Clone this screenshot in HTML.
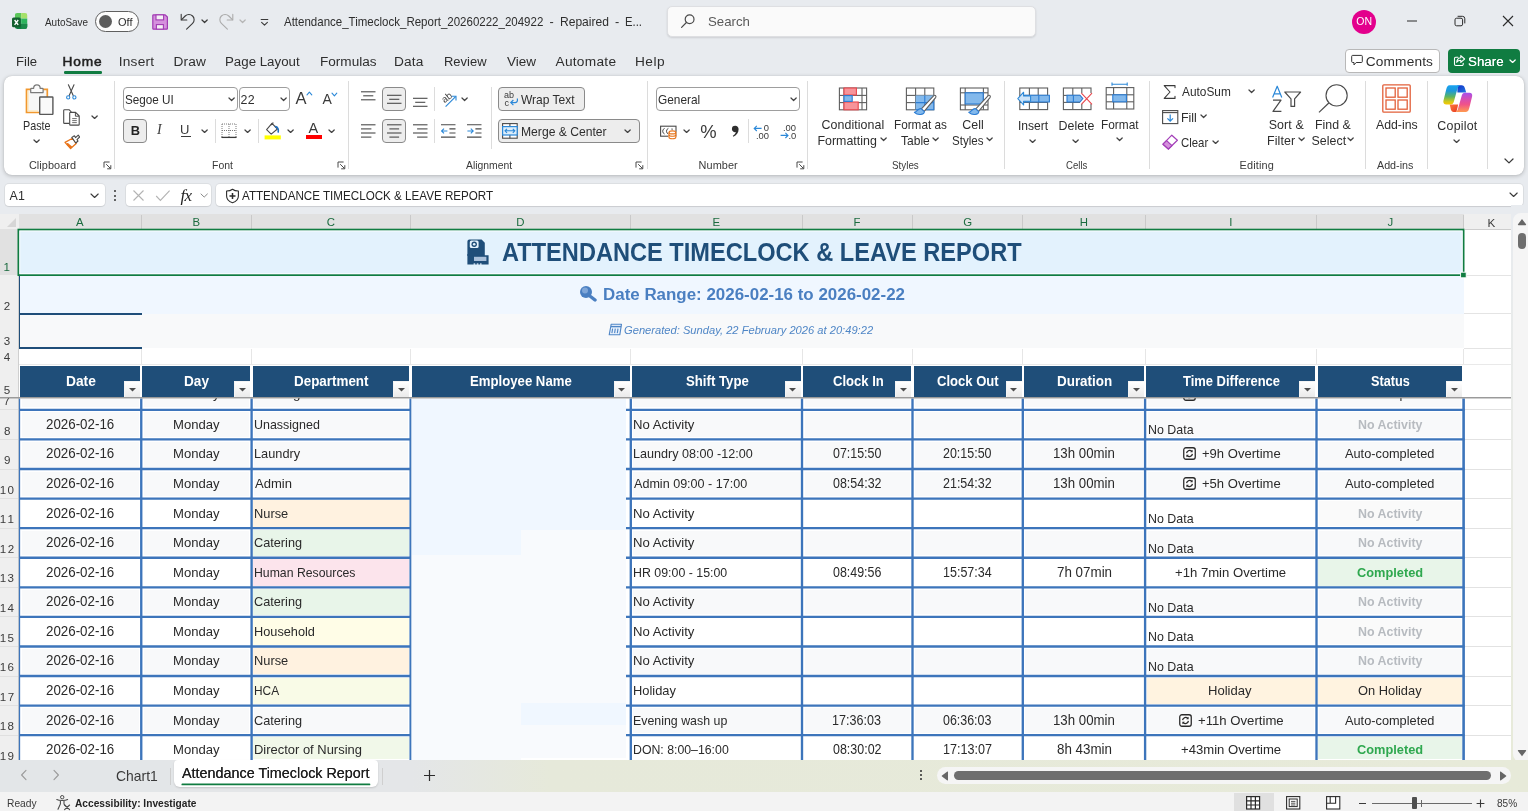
<!DOCTYPE html>
<html lang="en">
<head>
<meta charset="utf-8">
<title>Attendance_Timeclock_Report_20260222_204922 - Repaired - Excel</title>
<style>
*{margin:0;padding:0}
html,body{width:1528px;height:811px;overflow:hidden}
body{position:relative;background:#E8EBEF;font-family:"Liberation Sans",sans-serif;-webkit-font-smoothing:antialiased}
#app{position:absolute;left:0;top:0;width:1528px;height:811px;overflow:hidden}
#app div,#app svg,#app .t{position:absolute}
.t{white-space:nowrap;display:block;transform-origin:0 50%}
#sheet{left:0;top:0;width:1528px;height:760px;overflow:hidden}
</style>
</head>
<body>
<div id="app">
<!-- title bar, tabs, ribbon, formula bar -->
<svg style="left:12px;top:13.3px;" width="16" height="16.5" viewBox="0 0 16 16.5" fill="none"><defs><clipPath id="xlc"><path d="M5.2 0H13A2.4 2.4 0 0 1 15.4 2.4V13.6A2.4 2.4 0 0 1 13 16H5.2A2.4 2.4 0 0 1 2.8 13.6V2.4A2.4 2.4 0 0 1 5.2 0Z"/></clipPath></defs><g clip-path="url(#xlc)"><rect x="2.8" y="0" width="6.4" height="5.6" fill="#5BC65A"/><rect x="9.2" y="0" width="6.4" height="5.6" fill="#A5E069"/><rect x="2.8" y="5.6" width="6.4" height="5.2" fill="#21A366"/><rect x="9.2" y="5.6" width="6.4" height="5.2" fill="#2DB55D"/><rect x="2.8" y="10.8" width="12.8" height="5.4" fill="#107C41"/><rect x="9.2" y="10.8" width="6.4" height="5.4" fill="#1B8A4A"/></g><rect x="0" y="4.5" width="8.8" height="9.8" rx="1.6" fill="#14602F"/><path d="M2.6 7L6.2 11.8M6.2 7L2.6 11.8" stroke="#fff" stroke-width="1.4"/></svg>
<span class="t" style="left:44.98px;top:15px;font-size:11px;line-height:14px;color:#2E2E2E;transform:scaleX(0.9027);">AutoSave</span>
<div style="left:95px;top:11px;width:44px;height:20.5px;background:#FDFDFD;border:1px solid #5F5F5F;border-radius:11px;box-sizing:border-box;"></div>
<div style="left:98.6px;top:14.6px;width:13.4px;height:13.4px;background:#5D5D5D;border-radius:50%;"></div>
<span class="t" style="left:117.98px;top:15px;font-size:11px;line-height:14px;color:#2E2E2E;letter-spacing:0.07px;">Off</span>
<svg style="left:152px;top:13.5px;" width="16.4" height="16.4" viewBox="0 0 16.4 16.4" fill="none"><path d="M1.6 .8H13.2L15.4 3V14.4A.8 .8 0 0 1 14.6 15.2H1.6A.8 .8 0 0 1 .8 14.4V1.6A.8 .8 0 0 1 1.6 .8Z" fill="#D591DD" stroke="#A13BB3" stroke-width="1.2" stroke-linejoin="round"/><rect x="4" y=".9" width="7.6" height="5" fill="#F4F0F5" stroke="#A13BB3" stroke-width="1.1"/><rect x="4.4" y="10.6" width="7" height="4.5" fill="#F4F0F5" stroke="#A13BB3" stroke-width="1.1"/></svg>
<svg style="left:180px;top:12.9px;" width="16" height="17.5" viewBox="0 0 16 17.5" fill="none"><path d="M1.2 1.4V7H6.8" stroke="#3A3A3A" stroke-width="1.1" stroke-linecap="round" stroke-linejoin="round"/><path d="M1.6 6.6L5.2 3A5.2 5.2 0 0 1 12.6 10.4L6.6 16.2" stroke="#3A3A3A" stroke-width="1.1" stroke-linecap="round" stroke-linejoin="round"/></svg>
<svg style="left:201.4px;top:19px;" width="7.2" height="4.6" viewBox="0 0 7.2 4.6" fill="none"><path d="M1 1 L3.6 3.5 L6.2 1" stroke="#3A3A3A" stroke-width="1.25" stroke-linecap="round" stroke-linejoin="round"/></svg>
<svg style="left:218.4px;top:12.9px;" width="16" height="17.5" viewBox="0 0 16 17.5" fill="none"><path d="M14.8 1.4V7H9.2" stroke="#ABABAB" stroke-width="1.1" stroke-linecap="round" stroke-linejoin="round"/><path d="M14.4 6.6L10.8 3A5.2 5.2 0 0 0 3.4 10.4L9.4 16.2" stroke="#ABABAB" stroke-width="1.1" stroke-linecap="round" stroke-linejoin="round"/></svg>
<svg style="left:239.4px;top:19px;" width="7.2" height="4.6" viewBox="0 0 7.2 4.6" fill="none"><path d="M1 1 L3.6 3.5 L6.2 1" stroke="#B5B5B5" stroke-width="1.25" stroke-linecap="round" stroke-linejoin="round"/></svg>
<svg style="left:260px;top:18px;" width="9" height="9" viewBox="0 0 9 9" fill="none"><path d="M1.2 1.5H7.8" stroke="#3A3A3A" stroke-width="1.1" stroke-linecap="round"/><path d="M1.6 4.4L4.5 7.2L7.4 4.4" stroke="#3A3A3A" stroke-width="1.1" stroke-linecap="round" stroke-linejoin="round"/></svg>
<span class="t" style="left:283.98px;top:14px;font-size:12.7px;line-height:17px;color:#2E2E2E;transform:scaleX(0.9070);">Attendance_Timeclock_Report_20260222_204922</span>
<span class="t" style="left:549.44px;top:14px;font-size:12.7px;line-height:17px;color:#2E2E2E;">-</span>
<span class="t" style="left:559.81px;top:14px;font-size:12.7px;line-height:17px;color:#2E2E2E;transform:scaleX(0.9501);">Repaired</span>
<span class="t" style="left:615.04px;top:14px;font-size:12.7px;line-height:17px;color:#2E2E2E;">-</span>
<span class="t" style="left:625.47px;top:14px;font-size:12.7px;line-height:17px;color:#2E2E2E;transform:scaleX(0.8899);">E...</span>
<div style="left:667px;top:6px;width:368.5px;height:31px;background:#FAFAFA;border:1px solid #DEDFE2;border-radius:5px;box-sizing:border-box;box-shadow:0 1px 2px rgba(0,0,0,.12);"></div>
<svg style="left:680px;top:13px;" width="16" height="16" viewBox="0 0 16 16" fill="none"><circle cx="9.6" cy="6.2" r="4.4" stroke="#4A4A4A" stroke-width="1.2"/><path d="M6.4 9.5L1.6 14.4" stroke="#4A4A4A" stroke-width="1.2" stroke-linecap="round"/></svg>
<span class="t" style="left:707.9px;top:13px;font-size:13.6px;line-height:18px;color:#5A5A5A;transform:scaleX(0.9738);">Search</span>
<div style="left:1352px;top:9.6px;width:24px;height:24px;background:#E3008C;border-radius:50%;"></div>
<span class="t" style="left:1356.35px;top:14px;font-size:10.5px;line-height:14px;color:#FFFFFF;letter-spacing:0.1px;">ON</span>
<svg style="left:1406px;top:16px;" width="12" height="10" viewBox="0 0 12 10" fill="none"><path d="M1 5H11" stroke="#2B2B2B" stroke-width="1"/></svg>
<svg style="left:1454.4px;top:15.4px;" width="12" height="12" viewBox="0 0 12 12" fill="none"><rect x="1" y="3.2" width="7.6" height="7.6" rx="1.6" stroke="#2B2B2B" stroke-width="1"/><path d="M3.6 1.3H8.4A2.4 2.4 0 0 1 10.8 3.7V8.4" stroke="#2B2B2B" stroke-width="1"/></svg>
<svg style="left:1502.2px;top:15.4px;" width="12" height="12" viewBox="0 0 12 12" fill="none"><path d="M1 1L11 11M11 1L1 11" stroke="#2B2B2B" stroke-width="1.1"/></svg>
<span class="t" style="left:15.92px;top:53px;font-size:13.7px;line-height:18px;color:#2E2E2E;transform:scaleX(0.9585);">File</span>
<span class="t" style="left:62.38px;top:53px;font-size:13.7px;line-height:18px;color:#1F1F1F;letter-spacing:0.9px;-webkit-text-stroke:.55px #1F1F1F;">Home</span>
<span class="t" style="left:118.74px;top:53px;font-size:13.7px;line-height:18px;color:#2E2E2E;letter-spacing:0.22px;">Insert</span>
<span class="t" style="left:173.38px;top:53px;font-size:13.7px;line-height:18px;color:#2E2E2E;letter-spacing:0.21px;">Draw</span>
<span class="t" style="left:224.91px;top:53px;font-size:13.7px;line-height:18px;color:#2E2E2E;transform:scaleX(0.9708);">Page Layout</span>
<span class="t" style="left:319.89px;top:53px;font-size:13.7px;line-height:18px;color:#2E2E2E;transform:scaleX(0.9914);">Formulas</span>
<span class="t" style="left:393.88px;top:53px;font-size:13.7px;line-height:18px;color:#2E2E2E;letter-spacing:0.23px;">Data</span>
<span class="t" style="left:443.94px;top:53px;font-size:13.7px;line-height:18px;color:#2E2E2E;transform:scaleX(0.9468);">Review</span>
<span class="t" style="left:506.94px;top:53px;font-size:13.7px;line-height:18px;color:#2E2E2E;transform:scaleX(0.9857);">View</span>
<span class="t" style="left:555.47px;top:53px;font-size:13.7px;line-height:18px;color:#2E2E2E;letter-spacing:0.28px;">Automate</span>
<span class="t" style="left:634.88px;top:53px;font-size:13.7px;line-height:18px;color:#2E2E2E;letter-spacing:0.51px;">Help</span>
<div style="left:63.5px;top:71.3px;width:38.8px;height:2.5px;background:#107C41;border-radius:1.2px;"></div>
<div style="left:1345.4px;top:48.6px;width:94.4px;height:24px;background:#FFFFFF;border:1px solid #B8B8B8;border-radius:4px;box-sizing:border-box;"></div>
<svg style="left:1351px;top:54px;" width="12" height="12" viewBox="0 0 12 12" fill="none"><path d="M1.6 1.4H10.4A.9 .9 0 0 1 11.3 2.3V7.6A.9 .9 0 0 1 10.4 8.5H5.2L3 10.9V8.5H1.6A.9 .9 0 0 1 .7 7.6V2.3A.9 .9 0 0 1 1.6 1.4Z" stroke="#333" stroke-width="1" stroke-linejoin="round"/></svg>
<span class="t" style="left:1365.8px;top:53px;font-size:13.7px;line-height:18px;color:#2E2E2E;letter-spacing:0.14px;">Comments</span>
<div style="left:1448px;top:48.6px;width:72px;height:24.2px;background:#107C41;border-radius:4px;"></div>
<svg style="left:1452.5px;top:53.5px;" width="13" height="13" viewBox="0 0 13 13" fill="none"><path d="M5 3.2H2.7A1.2 1.2 0 0 0 1.5 4.4V10.3A1.2 1.2 0 0 0 2.7 11.5H9A1.2 1.2 0 0 0 10.2 10.3V9.2" stroke="#fff" stroke-width="1.1" stroke-linecap="round"/><path d="M7.8 1.6L11.6 5L7.8 8.4V6.3C5.8 6.3 4.6 6.9 3.7 8.3C3.9 5.6 5.3 3.9 7.8 3.7Z" stroke="#fff" stroke-width="1.1" stroke-linejoin="round"/></svg>
<span class="t" style="left:1467.89px;top:53px;font-size:13.7px;line-height:18px;color:#FFFFFF;transform:scaleX(0.9766);text-shadow:0 0 .4px #fff;">Share</span>
<svg style="left:1508.9px;top:58.7px;" width="7.2" height="4.6" viewBox="0 0 7.2 4.6" fill="none"><path d="M1 1 L3.6 3.5 L6.2 1" stroke="#FFFFFF" stroke-width="1.25" stroke-linecap="round" stroke-linejoin="round"/></svg>
<div style="left:4px;top:75.5px;width:1520px;height:99px;background:#FFFFFF;border-radius:8px;box-shadow:0 1px 4px rgba(0,0,0,.22),0 0 1px rgba(0,0,0,.18);"></div>
<div style="left:114px;top:81px;width:1px;height:88px;background:#DCDCDC;"></div>
<div style="left:348px;top:81px;width:1px;height:88px;background:#DCDCDC;"></div>
<div style="left:647px;top:81px;width:1px;height:88px;background:#DCDCDC;"></div>
<div style="left:807px;top:81px;width:1px;height:88px;background:#DCDCDC;"></div>
<div style="left:1004px;top:81px;width:1px;height:88px;background:#DCDCDC;"></div>
<div style="left:1149px;top:81px;width:1px;height:88px;background:#DCDCDC;"></div>
<div style="left:1365px;top:81px;width:1px;height:88px;background:#DCDCDC;"></div>
<div style="left:1427px;top:81px;width:1px;height:88px;background:#DCDCDC;"></div>
<div style="left:1487px;top:81px;width:1px;height:88px;background:#DCDCDC;"></div>
<div style="left:215px;top:119px;width:1px;height:24px;background:#DCDCDC;"></div>
<div style="left:258px;top:119px;width:1px;height:24px;background:#DCDCDC;"></div>
<div style="left:434px;top:87px;width:1px;height:24px;background:#DCDCDC;"></div>
<div style="left:434px;top:119px;width:1px;height:24px;background:#DCDCDC;"></div>
<div style="left:491px;top:86.5px;width:1px;height:62px;background:#DCDCDC;"></div>
<div style="left:748px;top:119px;width:1px;height:24px;background:#DCDCDC;"></div>
<span class="t" style="left:28.95px;top:158px;font-size:10.9px;line-height:14px;color:#3A3A3A;letter-spacing:0.07px;">Clipboard</span>
<span class="t" style="left:211.64px;top:158px;font-size:10.9px;line-height:14px;color:#3A3A3A;transform:scaleX(0.9598);">Font</span>
<span class="t" style="left:466.48px;top:158px;font-size:10.9px;line-height:14px;color:#3A3A3A;transform:scaleX(0.9510);">Alignment</span>
<span class="t" style="left:698.61px;top:158px;font-size:10.9px;line-height:14px;color:#3A3A3A;letter-spacing:0.06px;">Number</span>
<span class="t" style="left:891.55px;top:158px;font-size:10.9px;line-height:14px;color:#3A3A3A;transform:scaleX(0.9030);">Styles</span>
<span class="t" style="left:1065.51px;top:158px;font-size:10.9px;line-height:14px;color:#3A3A3A;transform:scaleX(0.8806);">Cells</span>
<span class="t" style="left:1239.61px;top:158px;font-size:10.9px;line-height:14px;color:#3A3A3A;letter-spacing:0.13px;">Editing</span>
<span class="t" style="left:1376.98px;top:158px;font-size:10.9px;line-height:14px;color:#3A3A3A;transform:scaleX(0.9851);">Add-ins</span>
<svg style="left:103.2px;top:161.4px;" width="9" height="9" viewBox="0 0 9 9" fill="none"><path d="M1 6.6V1H6.6" stroke="#4A4A4A" stroke-width="1"/><path d="M3.2 3.2L7.6 7.6" stroke="#4A4A4A" stroke-width="1"/><path d="M7.8 4.2V7.8H4.2" stroke="#4A4A4A" stroke-width="1"/></svg>
<svg style="left:336.6px;top:161.4px;" width="9" height="9" viewBox="0 0 9 9" fill="none"><path d="M1 6.6V1H6.6" stroke="#4A4A4A" stroke-width="1"/><path d="M3.2 3.2L7.6 7.6" stroke="#4A4A4A" stroke-width="1"/><path d="M7.8 4.2V7.8H4.2" stroke="#4A4A4A" stroke-width="1"/></svg>
<svg style="left:635.4px;top:161.4px;" width="9" height="9" viewBox="0 0 9 9" fill="none"><path d="M1 6.6V1H6.6" stroke="#4A4A4A" stroke-width="1"/><path d="M3.2 3.2L7.6 7.6" stroke="#4A4A4A" stroke-width="1"/><path d="M7.8 4.2V7.8H4.2" stroke="#4A4A4A" stroke-width="1"/></svg>
<svg style="left:796.2px;top:161.4px;" width="9" height="9" viewBox="0 0 9 9" fill="none"><path d="M1 6.6V1H6.6" stroke="#4A4A4A" stroke-width="1"/><path d="M3.2 3.2L7.6 7.6" stroke="#4A4A4A" stroke-width="1"/><path d="M7.8 4.2V7.8H4.2" stroke="#4A4A4A" stroke-width="1"/></svg>
<svg style="left:1504px;top:158.2px;" width="10" height="6" viewBox="0 0 10 6" fill="none"><path d="M1 1 L5 4.9 L9 1" stroke="#3A3A3A" stroke-width="1.25" stroke-linecap="round" stroke-linejoin="round"/></svg>
<svg style="left:25px;top:83.9px;" width="29" height="31.5" viewBox="0 0 29 31.5" fill="none"><path d="M1.5 5.3H22.3V28.5H1.5Z" fill="#F7F7F7" stroke="#F1982F" stroke-width="1.7"/><path d="M3 6.8V27H13" fill="none" stroke="#FFE2A8" stroke-width="1"/><path d="M5.7 8.6V5.2A.8 .8 0 0 1 6.5 4.4H8.6C8.6 2.4 10 .9 11.9 .9S15.2 2.4 15.2 4.4H17.3A.8 .8 0 0 1 18.1 5.2V8.6Z" fill="#FAFAFA" stroke="#7A7A7A" stroke-width="1.2" stroke-linejoin="round"/><rect x="14.7" y="13" width="13.2" height="17.4" rx=".6" fill="#FAFAFA" stroke="#585858" stroke-width="1.4"/></svg>
<span class="t" style="left:23.12px;top:118px;font-size:12.4px;line-height:16px;color:#2E2E2E;transform:scaleX(0.8692);">Paste</span>
<svg style="left:32.6px;top:138.9px;" width="7.2" height="4.6" viewBox="0 0 7.2 4.6" fill="none"><path d="M1 1 L3.6 3.5 L6.2 1" stroke="#424242" stroke-width="1.25" stroke-linecap="round" stroke-linejoin="round"/></svg>
<svg style="left:65px;top:83.5px;" width="12.6" height="16" viewBox="0 0 12.6 16" fill="none"><path d="M3.4 .8L8.2 11.6M9 .8L4.2 11.6" stroke="#4A4A4A" stroke-width="1.1" stroke-linecap="round"/><circle cx="3.2" cy="13.4" r="1.6" stroke="#2B88D8" stroke-width="1.1" fill="#fff"/><circle cx="9.4" cy="13.4" r="1.6" stroke="#2B88D8" stroke-width="1.1" fill="#fff"/></svg>
<svg style="left:62.5px;top:108.5px;" width="17" height="17" viewBox="0 0 17 17" fill="none"><path d="M6.6 14.4H1.4A.7 .7 0 0 1 .7 13.7V1.4A.7 .7 0 0 1 1.4 .7H6L8 2.7V3.2" stroke="#4A4A4A" stroke-width="1.1" fill="#fff" stroke-linejoin="round"/><path d="M7.4 3.4H12.6L16.2 7V15.4A.7 .7 0 0 1 15.5 16.1H7.4A.7 .7 0 0 1 6.7 15.4V4.1A.7 .7 0 0 1 7.4 3.4Z" stroke="#4A4A4A" stroke-width="1.1" fill="#fff" stroke-linejoin="round"/><path d="M12.4 3.6V7.2H16" stroke="#4A4A4A" stroke-width="1" fill="none"/><path d="M9.2 9.6H13.8M9.2 11.6H13.8M9.2 13.6H13.8" stroke="#4A4A4A" stroke-width=".8"/></svg>
<svg style="left:90.9px;top:114.7px;" width="7.2" height="4.6" viewBox="0 0 7.2 4.6" fill="none"><path d="M1 1 L3.6 3.5 L6.2 1" stroke="#424242" stroke-width="1.25" stroke-linecap="round" stroke-linejoin="round"/></svg>
<svg style="left:63.5px;top:133.5px;" width="16.5" height="16" viewBox="0 0 16.5 16" fill="none"><path d="M1 8.4L8.6 4.2L12.2 9.6L6.6 14.6Z" fill="#fff" stroke="#E8741A" stroke-width="1.3" stroke-linejoin="round"/><path d="M3.2 9.8L7.6 13.6" stroke="#E8741A" stroke-width="2.2"/><path d="M3 9L6.8 14" stroke="#E8741A" stroke-width="1"/><path d="M7.8 3.4L10.4 1.8L11.6 3.6L14.2 1.2L15.6 3L13 5.6L14 7L11.8 9Z" fill="#fff" stroke="#4A4A4A" stroke-width="1.1" stroke-linejoin="round"/></svg>
<div style="left:123px;top:87px;width:114.5px;height:23.5px;background:#FFFFFF;border:1px solid #9E9E9E;border-radius:4px;box-sizing:border-box;"></div>
<span class="t" style="left:125.27px;top:92px;font-size:12.4px;line-height:16px;color:#2E2E2E;transform:scaleX(0.9441);">Segoe UI</span>
<svg style="left:227.7px;top:97.2px;" width="7.2" height="4.6" viewBox="0 0 7.2 4.6" fill="none"><path d="M1 1 L3.6 3.5 L6.2 1" stroke="#424242" stroke-width="1.25" stroke-linecap="round" stroke-linejoin="round"/></svg>
<div style="left:239.2px;top:87px;width:51px;height:23.5px;background:#FFFFFF;border:1px solid #9E9E9E;border-radius:4px;box-sizing:border-box;"></div>
<span class="t" style="left:240.58px;top:92px;font-size:12.4px;line-height:16px;color:#2E2E2E;letter-spacing:0.25px;">22</span>
<svg style="left:280.4px;top:97.2px;" width="7.2" height="4.6" viewBox="0 0 7.2 4.6" fill="none"><path d="M1 1 L3.6 3.5 L6.2 1" stroke="#424242" stroke-width="1.25" stroke-linecap="round" stroke-linejoin="round"/></svg>
<span class="t" style="left:295.47px;top:88px;font-size:16.5px;line-height:21px;color:#3A3A3A;">A</span>
<svg style="left:305.5px;top:91px;" width="7" height="5" viewBox="0 0 7 5" fill="none"><path d="M1 3.8L3.4 1.2L5.8 3.8" stroke="#2B88D8" stroke-width="1.1" stroke-linecap="round" stroke-linejoin="round"/></svg>
<span class="t" style="left:322.47px;top:90px;font-size:14px;line-height:18px;color:#3A3A3A;">A</span>
<svg style="left:331px;top:91.5px;" width="7" height="5" viewBox="0 0 7 5" fill="none"><path d="M1 1.2L3.4 3.8L5.8 1.2" stroke="#2B88D8" stroke-width="1.1" stroke-linecap="round" stroke-linejoin="round"/></svg>
<div style="left:123px;top:119px;width:24.2px;height:24.2px;background:#EDEDED;border:1px solid #8A8A8A;border-radius:4px;box-sizing:border-box;"></div>
<span class="t" style="left:130.64px;top:122px;font-size:12.8px;line-height:17px;color:#242424;font-weight:700;">B</span>
<span class="t" style="left:157.05px;top:121px;font-size:14px;line-height:18px;color:#3A3A3A;font-style:italic;font-family:'Liberation Serif',serif;">I</span>
<span class="t" style="left:180px;top:121px;font-size:13px;line-height:17px;color:#3A3A3A;">U</span>
<div style="left:180.6px;top:136.4px;width:10px;height:1px;background:#3A3A3A;"></div>
<svg style="left:200.9px;top:128.9px;" width="7.2" height="4.6" viewBox="0 0 7.2 4.6" fill="none"><path d="M1 1 L3.6 3.5 L6.2 1" stroke="#424242" stroke-width="1.25" stroke-linecap="round" stroke-linejoin="round"/></svg>
<svg style="left:221px;top:122.5px;" width="16" height="16" viewBox="0 0 16 16" fill="none"><path d="M1 1V14" stroke="#7A7A7A" stroke-width="1" stroke-dasharray="1 1"/><path d="M8 1V14" stroke="#7A7A7A" stroke-width="1" stroke-dasharray="1 1"/><path d="M15 1V14" stroke="#7A7A7A" stroke-width="1" stroke-dasharray="1 1"/><path d="M1 1H15" stroke="#7A7A7A" stroke-width="1" stroke-dasharray="1 1"/><path d="M1 7.5H15" stroke="#7A7A7A" stroke-width="1" stroke-dasharray="1 1"/><path d="M.4 14.4H15.6" stroke="#3A3A3A" stroke-width="1.3"/></svg>
<svg style="left:244.4px;top:128.9px;" width="7.2" height="4.6" viewBox="0 0 7.2 4.6" fill="none"><path d="M1 1 L3.6 3.5 L6.2 1" stroke="#424242" stroke-width="1.25" stroke-linecap="round" stroke-linejoin="round"/></svg>
<svg style="left:263.8px;top:121.5px;" width="17.5" height="18" viewBox="0 0 17.5 18" fill="none"><path d="M8 1.4L13.4 7L7.2 12.2L2.6 7.6Z" fill="#fff" stroke="#4A4A4A" stroke-width="1.1" stroke-linejoin="round"/><path d="M7.4 3.2A1.8 1.8 0 0 1 9.6 1" stroke="#4A4A4A" stroke-width="1" fill="none"/><path d="M11.6 4.6C14 5 14.6 7.6 14.2 10" stroke="#1E6FC0" stroke-width="1.6" fill="none" stroke-linecap="round"/><rect x=".6" y="13.4" width="16.2" height="4" fill="#FFFF00"/></svg>
<svg style="left:287.4px;top:128.9px;" width="7.2" height="4.6" viewBox="0 0 7.2 4.6" fill="none"><path d="M1 1 L3.6 3.5 L6.2 1" stroke="#424242" stroke-width="1.25" stroke-linecap="round" stroke-linejoin="round"/></svg>
<span class="t" style="left:308.57px;top:119px;font-size:14.5px;line-height:19px;color:#3A3A3A;">A</span>
<div style="left:305.6px;top:135px;width:16.4px;height:4px;background:#FF0000;"></div>
<svg style="left:328.4px;top:128.9px;" width="7.2" height="4.6" viewBox="0 0 7.2 4.6" fill="none"><path d="M1 1 L3.6 3.5 L6.2 1" stroke="#424242" stroke-width="1.25" stroke-linecap="round" stroke-linejoin="round"/></svg>
<div style="left:382px;top:87px;width:24.4px;height:23.8px;background:#EDEDED;border:1px solid #8A8A8A;border-radius:4px;box-sizing:border-box;"></div>
<div style="left:382px;top:119px;width:24.4px;height:24.2px;background:#EDEDED;border:1px solid #8A8A8A;border-radius:4px;box-sizing:border-box;"></div>
<svg style="left:361px;top:91px;" width="15" height="18" viewBox="0 0 15 18" fill="none"><path d="M0 0.8H14.5" stroke="#4A4A4A" stroke-width="1.1"/><path d="M2.2 4.8H12.3" stroke="#4A4A4A" stroke-width="1.1"/><path d="M0 8.8H14.5" stroke="#4A4A4A" stroke-width="1.1"/></svg>
<svg style="left:386.6px;top:91px;" width="15" height="18" viewBox="0 0 15 18" fill="none"><path d="M0 4.3H14.5" stroke="#4A4A4A" stroke-width="1.1"/><path d="M2.2 8.3H12.3" stroke="#4A4A4A" stroke-width="1.1"/><path d="M0 12.3H14.5" stroke="#4A4A4A" stroke-width="1.1"/></svg>
<svg style="left:413px;top:91px;" width="15" height="18" viewBox="0 0 15 18" fill="none"><path d="M0 7.3H14.5" stroke="#4A4A4A" stroke-width="1.1"/><path d="M2.2 11.3H12.3" stroke="#4A4A4A" stroke-width="1.1"/><path d="M0 15.3H14.5" stroke="#4A4A4A" stroke-width="1.1"/></svg>
<svg style="left:361px;top:123.5px;" width="15" height="15" viewBox="0 0 15 15" fill="none"><path d="M0 0.8H14.5" stroke="#4A4A4A" stroke-width="1.1"/><path d="M0 4.9H10.4" stroke="#4A4A4A" stroke-width="1.1"/><path d="M0 9H14.5" stroke="#4A4A4A" stroke-width="1.1"/><path d="M0 13.1H10.4" stroke="#4A4A4A" stroke-width="1.1"/></svg>
<svg style="left:386.6px;top:123.5px;" width="15" height="15" viewBox="0 0 15 15" fill="none"><path d="M0 0.8H14.5" stroke="#4A4A4A" stroke-width="1.1"/><path d="M2.4 4.9H12.1" stroke="#4A4A4A" stroke-width="1.1"/><path d="M0 9H14.5" stroke="#4A4A4A" stroke-width="1.1"/><path d="M2.4 13.1H12.1" stroke="#4A4A4A" stroke-width="1.1"/></svg>
<svg style="left:413px;top:123.5px;" width="15" height="15" viewBox="0 0 15 15" fill="none"><path d="M0 0.8H14.5" stroke="#4A4A4A" stroke-width="1.1"/><path d="M4.1 4.9H14.5" stroke="#4A4A4A" stroke-width="1.1"/><path d="M0 9H14.5" stroke="#4A4A4A" stroke-width="1.1"/><path d="M4.1 13.1H14.5" stroke="#4A4A4A" stroke-width="1.1"/></svg>
<svg style="left:439.5px;top:90.5px;" width="17" height="17" viewBox="0 0 17 17" fill="none"><text x="0" y="0" transform="translate(4.6 12.2) rotate(-38)" font-family="Liberation Sans,sans-serif" font-size="9.6" fill="#3A3A3A">ab</text><path d="M5.6 15.6L15.6 5.6" stroke="#2B88D8" stroke-width="1.1"/><path d="M11.8 5.2H16V9.4" stroke="#2B88D8" stroke-width="1.1" fill="none"/></svg>
<svg style="left:461.4px;top:97.2px;" width="7.2" height="4.6" viewBox="0 0 7.2 4.6" fill="none"><path d="M1 1 L3.6 3.5 L6.2 1" stroke="#424242" stroke-width="1.25" stroke-linecap="round" stroke-linejoin="round"/></svg>
<svg style="left:440.5px;top:123.5px;" width="15" height="15" viewBox="0 0 15 15" fill="none"><path d="M0 .8H14.5M0 13.1H14.5M8.4 4.9H14.5M8.4 9H14.5" stroke="#4A4A4A" stroke-width="1.1"/><path d="M.8 6.95H6.4M3 4.6L.6 6.95L3 9.3" stroke="#2B88D8" stroke-width="1.1" fill="none"/></svg>
<svg style="left:466.5px;top:123.5px;" width="15" height="15" viewBox="0 0 15 15" fill="none"><path d="M0 .8H14.5M0 13.1H14.5M8.4 4.9H14.5M8.4 9H14.5" stroke="#4A4A4A" stroke-width="1.1"/><path d="M.4 6.95H6M3.8 4.6L6.2 6.95L3.8 9.3" stroke="#2B88D8" stroke-width="1.1" fill="none"/></svg>
<div style="left:497.5px;top:87px;width:87.2px;height:23.8px;background:#EDEDED;border:1px solid #8A8A8A;border-radius:4px;box-sizing:border-box;"></div>
<svg style="left:503.5px;top:91px;" width="15" height="16" viewBox="0 0 15 16" fill="none"><text x="0" y="6.8" font-family="Liberation Sans,sans-serif" font-size="9" fill="#3A3A3A">ab</text><text x="0.4" y="14.6" font-family="Liberation Sans,sans-serif" font-size="9" fill="#3A3A3A">c</text><path d="M13.4 7.4V9.4A2.2 2.2 0 0 1 11.2 11.6H7" stroke="#2B88D8" stroke-width="1.2" fill="none"/><path d="M9.4 9L6.8 11.6L9.4 14.2" stroke="#2B88D8" stroke-width="1.2" fill="none"/></svg>
<span class="t" style="left:521.45px;top:92px;font-size:12.4px;line-height:16px;color:#2E2E2E;transform:scaleX(0.9688);">Wrap Text</span>
<div style="left:497.5px;top:119px;width:142px;height:24.2px;background:#EDEDED;border:1px solid #8A8A8A;border-radius:4px;box-sizing:border-box;"></div>
<svg style="left:501.5px;top:122.5px;" width="16" height="16" viewBox="0 0 16 16" fill="none"><rect x=".6" y=".6" width="14.6" height="14.6" fill="#fff" stroke="#4A4A4A" stroke-width="1.1"/><path d="M7.9 .6V3.8M7.9 12V15.2" stroke="#4A4A4A" stroke-width="1.1"/><rect x=".6" y="3.6" width="14.6" height="8.4" fill="#DDEEFB" stroke="#2B88D8" stroke-width="1.2"/><path d="M3 7.8H12.8M5 5.8L3 7.8L5 9.8M10.8 5.8L12.8 7.8L10.8 9.8" stroke="#2B88D8" stroke-width="1.1" fill="none"/></svg>
<span class="t" style="left:520.5px;top:124px;font-size:12.4px;line-height:16px;color:#2E2E2E;transform:scaleX(0.9791);">Merge &amp; Center</span>
<svg style="left:623.6px;top:128.9px;" width="7.2" height="4.6" viewBox="0 0 7.2 4.6" fill="none"><path d="M1 1 L3.6 3.5 L6.2 1" stroke="#424242" stroke-width="1.25" stroke-linecap="round" stroke-linejoin="round"/></svg>
<div style="left:656px;top:87px;width:144px;height:23.5px;background:#FFFFFF;border:1px solid #9E9E9E;border-radius:4px;box-sizing:border-box;"></div>
<span class="t" style="left:657.6px;top:92px;font-size:12.4px;line-height:16px;color:#2E2E2E;transform:scaleX(0.9563);">General</span>
<svg style="left:790.4px;top:97.2px;" width="7.2" height="4.6" viewBox="0 0 7.2 4.6" fill="none"><path d="M1 1 L3.6 3.5 L6.2 1" stroke="#424242" stroke-width="1.25" stroke-linecap="round" stroke-linejoin="round"/></svg>
<svg style="left:659.6px;top:125px;" width="17" height="15" viewBox="0 0 17 15" fill="none"><rect x=".6" y="1.2" width="15.4" height="10" stroke="#4A4A4A" stroke-width="1.1" fill="#fff"/><path d="M4.6 3.4A3 3 0 0 0 4.6 9M8.4 3.4A3 3 0 0 0 8.4 9M12 3.4A3 3 0 0 1 12 5" stroke="#4A4A4A" stroke-width="1" fill="none"/><rect x="8.4" y="5.8" width="8" height="8.4" rx="1.6" fill="#fff"/><ellipse cx="12.4" cy="7.4" rx="3.4" ry="1.5" fill="#fff" stroke="#E8741A" stroke-width="1.1"/><path d="M9 7.4V12.2C9 13 10.5 13.7 12.4 13.7S15.8 13 15.8 12.2V7.4" stroke="#E8741A" stroke-width="1.1" fill="none"/><path d="M9 9.8C9 10.6 10.5 11.3 12.4 11.3S15.8 10.6 15.8 9.8" stroke="#E8741A" stroke-width="1.1" fill="none"/></svg>
<svg style="left:682.9px;top:128.9px;" width="7.2" height="4.6" viewBox="0 0 7.2 4.6" fill="none"><path d="M1 1 L3.6 3.5 L6.2 1" stroke="#424242" stroke-width="1.25" stroke-linecap="round" stroke-linejoin="round"/></svg>
<span class="t" style="left:700.14px;top:120px;font-size:18.4px;line-height:24px;color:#3A3A3A;letter-spacing:-1px;">%</span>
<svg style="left:729.6px;top:124.6px;" width="11" height="14" viewBox="0 0 11 14" fill="none"><path d="M5.2 .8a3.3 3.3 0 0 1 3.4 3.5c0 3.4-2.1 6.1-5.3 7.4l-.5-1c1.8-.9 2.9-2.2 3-3.7a3 3 0 0 1-3.9-2.8A3.3 3.3 0 0 1 5.2 .8Z" fill="#2E2E2E"/></svg>
<svg style="left:752.5px;top:123.5px;" width="18" height="16" viewBox="0 0 18 16" fill="none"><text x="10.8" y="7" font-family="Liberation Sans,sans-serif" font-size="9.4" fill="#3A3A3A">0</text><text x="3" y="15.4" font-family="Liberation Sans,sans-serif" font-size="9.4" fill="#3A3A3A">.00</text><path d="M1.2 4.4H8.6M3.8 1.8L1.2 4.4L3.8 7" stroke="#2B88D8" stroke-width="1.1" fill="none"/></svg>
<svg style="left:779.5px;top:123.5px;" width="18" height="16" viewBox="0 0 18 16" fill="none"><text x="3" y="7" font-family="Liberation Sans,sans-serif" font-size="9.4" fill="#3A3A3A">.00</text><text x="8.4" y="15.4" font-family="Liberation Sans,sans-serif" font-size="9.4" fill="#3A3A3A">.0</text><path d="M.6 11.4H8M5.4 8.8L8 11.4L5.4 14" stroke="#2B88D8" stroke-width="1.1" fill="none"/></svg>
<svg style="left:838px;top:86.5px;" width="30" height="24" viewBox="0 0 30 24" fill="none"><rect x="1.4" y="1" width="27.2" height="21.8" fill="#fff" stroke="#5E5E5E" stroke-width="1.1"/><path d="M6 1V22.8" stroke="#5E5E5E" stroke-width="1.1"/><path d="M24 1V22.8" stroke="#5E5E5E" stroke-width="1.1"/><path d="M1.4 8.4H28.6" stroke="#5E5E5E" stroke-width="1.1"/><path d="M1.4 15.6H28.6" stroke="#5E5E5E" stroke-width="1.1"/><rect x="6" y="1" width="12.4" height="7" fill="#F7949A" stroke="#E8464C" stroke-width="1.1"/><rect x="6" y="15" width="14.2" height="7.8" fill="#F7949A" stroke="#E8464C" stroke-width="1.1"/><rect x="6" y="8.6" width="8.2" height="5.8" fill="#83B9EC" stroke="#2B7CD3" stroke-width="1.1"/></svg>
<span class="t" style="left:821.57px;top:117px;font-size:12.4px;line-height:16px;color:#2E2E2E;letter-spacing:0.07px;">Conditional</span>
<span class="t" style="left:817.48px;top:133px;font-size:12.4px;line-height:16px;color:#2E2E2E;letter-spacing:0.01px;">Formatting</span>
<svg style="left:880px;top:137.3px;" width="7.2" height="4.6" viewBox="0 0 7.2 4.6" fill="none"><path d="M1 1 L3.6 3.5 L6.2 1" stroke="#424242" stroke-width="1.25" stroke-linecap="round" stroke-linejoin="round"/></svg>
<svg style="left:905px;top:86.5px;" width="34" height="30" viewBox="0 0 34 30" fill="none"><rect x="1.4" y="1" width="27.4" height="21.8" fill="#fff" stroke="#5E5E5E" stroke-width="1.1"/><path d="M10.6 1V22.8" stroke="#5E5E5E" stroke-width="1.1"/><path d="M19.8 1V22.8" stroke="#5E5E5E" stroke-width="1.1"/><path d="M1.4 8.4H28.8" stroke="#5E5E5E" stroke-width="1.1"/><path d="M1.4 15.6H28.8" stroke="#5E5E5E" stroke-width="1.1"/><rect x="10.6" y="8.4" width="18.2" height="14.4" fill="#83B9EC"/><path d="M10.6 15.6H28.8M19.8 8.4V22.8" stroke="#2B7CD3" stroke-width="1.1"/><path d="M28.8 8.4V22.8H10.6" stroke="#2B7CD3" stroke-width="1.1" fill="none"/><path d="M28.8 8.6C30.2 7.6 31.6 9 30.6 10.6L19.2 24.4L16.4 21.8Z" fill="#fff" stroke="#5E5E5E" stroke-width="1.1" stroke-linejoin="round"/><path d="M16 21.6C12.8 21.2 12.4 24.8 9.4 25.4C12.8 28.6 19.2 28 19.4 24.6Z" fill="#83B9EC" stroke="#2B7CD3" stroke-width="1.1" stroke-linejoin="round"/></svg>
<span class="t" style="left:893.54px;top:117px;font-size:12.4px;line-height:16px;color:#2E2E2E;transform:scaleX(0.9476);">Format as</span>
<span class="t" style="left:900.73px;top:133px;font-size:12.4px;line-height:16px;color:#2E2E2E;transform:scaleX(0.9717);">Table</span>
<svg style="left:931.8px;top:137.3px;" width="7.2" height="4.6" viewBox="0 0 7.2 4.6" fill="none"><path d="M1 1 L3.6 3.5 L6.2 1" stroke="#424242" stroke-width="1.25" stroke-linecap="round" stroke-linejoin="round"/></svg>
<svg style="left:958.5px;top:86.5px;" width="34" height="30" viewBox="0 0 34 30" fill="none"><rect x="1.4" y="1" width="27.6" height="21.8" fill="#fff" stroke="#5E5E5E" stroke-width="1.1"/><path d="M6.2 1V22.8" stroke="#5E5E5E" stroke-width="1.1"/><path d="M24.4 1V22.8" stroke="#5E5E5E" stroke-width="1.1"/><path d="M1.4 5.8H29" stroke="#5E5E5E" stroke-width="1.1"/><path d="M1.4 18H29" stroke="#5E5E5E" stroke-width="1.1"/><rect x="6.2" y="5.8" width="18" height="11.2" fill="#83B9EC" stroke="#2B7CD3" stroke-width="1.1"/><path d="M29.2 8.6C30.6 7.6 32 9 31 10.6L19.6 24.4L16.8 21.8Z" fill="#fff" stroke="#5E5E5E" stroke-width="1.1" stroke-linejoin="round"/><path d="M16.4 21.6C13.2 21.2 12.8 24.8 9.8 25.4C13.2 28.6 19.6 28 19.8 24.6Z" fill="#83B9EC" stroke="#2B7CD3" stroke-width="1.1" stroke-linejoin="round"/></svg>
<span class="t" style="left:962.37px;top:117px;font-size:12.4px;line-height:16px;color:#2E2E2E;letter-spacing:0.03px;">Cell</span>
<span class="t" style="left:952.48px;top:133px;font-size:12.4px;line-height:16px;color:#2E2E2E;transform:scaleX(0.9311);">Styles</span>
<svg style="left:986.4px;top:137.3px;" width="7.2" height="4.6" viewBox="0 0 7.2 4.6" fill="none"><path d="M1 1 L3.6 3.5 L6.2 1" stroke="#424242" stroke-width="1.25" stroke-linecap="round" stroke-linejoin="round"/></svg>
<svg style="left:1017px;top:86.5px;" width="34" height="24" viewBox="0 0 34 24" fill="none"><rect x="2.8" y="1" width="27.8" height="21.6" fill="#fff" stroke="#5E5E5E" stroke-width="1.1"/><path d="M12.4 1V22.6" stroke="#5E5E5E" stroke-width="1.1"/><path d="M21.2 1V22.6" stroke="#5E5E5E" stroke-width="1.1"/><path d="M2.8 8.4H30.6" stroke="#5E5E5E" stroke-width="1.1"/><path d="M2.8 15.4H30.6" stroke="#5E5E5E" stroke-width="1.1"/><path d="M8 8.2H32.4V15H8Z" fill="#83B9EC" stroke="#2B7CD3" stroke-width="1.1"/><path d="M21.8 8.2V15" stroke="#2B7CD3" stroke-width="1.1"/><path d="M6.6 5.2L.8 11.6L6.6 18V14.2H13.6V9H6.6Z" fill="#CFE4F8" stroke="#2B88D8" stroke-width="1.1" stroke-linejoin="round"/></svg>
<span class="t" style="left:1017.89px;top:118px;font-size:12.4px;line-height:16px;color:#2E2E2E;transform:scaleX(0.9739);">Insert</span>
<svg style="left:1029.4px;top:138.9px;" width="7.2" height="4.6" viewBox="0 0 7.2 4.6" fill="none"><path d="M1 1 L3.6 3.5 L6.2 1" stroke="#424242" stroke-width="1.25" stroke-linecap="round" stroke-linejoin="round"/></svg>
<svg style="left:1062px;top:86.5px;" width="34" height="24" viewBox="0 0 34 24" fill="none"><rect x="1.4" y="1" width="27.6" height="21.6" fill="#fff" stroke="#5E5E5E" stroke-width="1.1"/><path d="M10.8 1V22.6" stroke="#5E5E5E" stroke-width="1.1"/><path d="M19.8 1V22.6" stroke="#5E5E5E" stroke-width="1.1"/><path d="M1.4 8.4H29" stroke="#5E5E5E" stroke-width="1.1"/><path d="M1.4 15.4H29" stroke="#5E5E5E" stroke-width="1.1"/><rect x="18" y="6" width="13" height="11" fill="#fff"/><path d="M5 8.2H18L20.8 11.6L18 15H5Z" fill="#83B9EC" stroke="#2B7CD3" stroke-width="1.1"/><path d="M11.4 8.2V15" stroke="#2B7CD3" stroke-width="1.1"/><path d="M19.4 6.2L30 17.4M30 6.2L19.4 17.4" stroke="#E8464C" stroke-width="1.1"/></svg>
<span class="t" style="left:1058.48px;top:118px;font-size:12.4px;line-height:16px;color:#2E2E2E;letter-spacing:0.04px;">Delete</span>
<svg style="left:1072.4px;top:138.9px;" width="7.2" height="4.6" viewBox="0 0 7.2 4.6" fill="none"><path d="M1 1 L3.6 3.5 L6.2 1" stroke="#424242" stroke-width="1.25" stroke-linecap="round" stroke-linejoin="round"/></svg>
<svg style="left:1105px;top:82px;" width="30" height="28" viewBox="0 0 30 28" fill="none"><rect x="1.2" y="5.6" width="27.6" height="21.4" fill="#fff" stroke="#5E5E5E" stroke-width="1.1"/><path d="M8.6 5.6V27" stroke="#5E5E5E" stroke-width="1.1"/><path d="M21.8 5.6V27" stroke="#5E5E5E" stroke-width="1.1"/><path d="M1.2 12.8H28.8" stroke="#5E5E5E" stroke-width="1.1"/><path d="M1.2 19.8H28.8" stroke="#5E5E5E" stroke-width="1.1"/><rect x="7.8" y="12.8" width="13.6" height="7" fill="#83B9EC" stroke="#2B7CD3" stroke-width="1.1"/><path d="M7 2.2H22.2M7 .6V3.8M22.2 .6V3.8" stroke="#2B88D8" stroke-width="1.1"/></svg>
<span class="t" style="left:1100.53px;top:117px;font-size:12.4px;line-height:16px;color:#2E2E2E;transform:scaleX(0.9564);">Format</span>
<svg style="left:1115.6px;top:137.3px;" width="7.2" height="4.6" viewBox="0 0 7.2 4.6" fill="none"><path d="M1 1 L3.6 3.5 L6.2 1" stroke="#424242" stroke-width="1.25" stroke-linecap="round" stroke-linejoin="round"/></svg>
<svg style="left:1162px;top:84px;" width="15" height="16" viewBox="0 0 15 16" fill="none"><path d="M13 3.6V1.6H2.2L8 8L2.2 14.4H13V12.4" stroke="#3A3A3A" stroke-width="1.1" stroke-linejoin="round" stroke-linecap="round"/></svg>
<span class="t" style="left:1181.98px;top:84px;font-size:12.4px;line-height:16px;color:#2E2E2E;transform:scaleX(0.9569);">AutoSum</span>
<svg style="left:1247.9px;top:89.3px;" width="7.2" height="4.6" viewBox="0 0 7.2 4.6" fill="none"><path d="M1 1 L3.6 3.5 L6.2 1" stroke="#424242" stroke-width="1.25" stroke-linecap="round" stroke-linejoin="round"/></svg>
<svg style="left:1161.5px;top:108.5px;" width="17" height="16" viewBox="0 0 17 16" fill="none"><rect x=".6" y="1.6" width="15.2" height="13" fill="#fff" stroke="#4A4A4A" stroke-width="1.1"/><path d="M.6 3.6H15.8" stroke="#4A4A4A" stroke-width="1.1"/><path d="M8.2 5.6V12M5.4 9.4L8.2 12.2L11 9.4" stroke="#2B88D8" stroke-width="1.2" fill="none"/></svg>
<span class="t" style="left:1180.98px;top:110px;font-size:12.4px;line-height:16px;color:#2E2E2E;letter-spacing:0px;">Fill</span>
<svg style="left:1200px;top:114.1px;" width="7.2" height="4.6" viewBox="0 0 7.2 4.6" fill="none"><path d="M1 1 L3.6 3.5 L6.2 1" stroke="#424242" stroke-width="1.25" stroke-linecap="round" stroke-linejoin="round"/></svg>
<svg style="left:1161.5px;top:134px;" width="17" height="16.5" viewBox="0 0 17 16.5" fill="none"><path d="M9.8 1.2L15.4 6.2L6.4 15L1 10.2Z" fill="#fff" stroke="#A33EB8" stroke-width="1.2" stroke-linejoin="round"/><path d="M4.6 6.6L10 11.6L6.4 15L1 10.2Z" fill="#D591DD" stroke="#A33EB8" stroke-width="1.2" stroke-linejoin="round"/></svg>
<span class="t" style="left:1181.42px;top:135px;font-size:12.4px;line-height:16px;color:#2E2E2E;transform:scaleX(0.9202);">Clear</span>
<svg style="left:1212.4px;top:139.9px;" width="7.2" height="4.6" viewBox="0 0 7.2 4.6" fill="none"><path d="M1 1 L3.6 3.5 L6.2 1" stroke="#424242" stroke-width="1.25" stroke-linecap="round" stroke-linejoin="round"/></svg>
<svg style="left:1271px;top:84.5px;" width="31" height="28" viewBox="0 0 31 28" fill="none"><path d="M1.6 12.4L6.2 1.2L10.8 12.4M3.2 8.8H9.2" stroke="#2B88D8" stroke-width="1.2" fill="none" stroke-linejoin="round"/><path d="M2 15.2H10L2 26.4H10.4" stroke="#4A4A4A" stroke-width="1.2" fill="none" stroke-linejoin="round"/><path d="M13.8 7H29.6L23.6 13.8V21.4H20V13.8Z" stroke="#4A4A4A" stroke-width="1.2" fill="#fff" stroke-linejoin="round"/></svg>
<span class="t" style="left:1268.64px;top:117px;font-size:12.4px;line-height:16px;color:#2E2E2E;letter-spacing:0.12px;">Sort &amp;</span>
<span class="t" style="left:1266.98px;top:133px;font-size:12.4px;line-height:16px;color:#2E2E2E;letter-spacing:0.13px;">Filter</span>
<svg style="left:1297.6px;top:137.3px;" width="7.2" height="4.6" viewBox="0 0 7.2 4.6" fill="none"><path d="M1 1 L3.6 3.5 L6.2 1" stroke="#424242" stroke-width="1.25" stroke-linecap="round" stroke-linejoin="round"/></svg>
<svg style="left:1318px;top:84px;" width="31" height="30" viewBox="0 0 31 30" fill="none"><circle cx="18.6" cy="11.4" r="10.6" stroke="#4A4A4A" stroke-width="1.1" fill="#fff"/><path d="M10.8 19L1 28.4" stroke="#4A4A4A" stroke-width="1.2"/></svg>
<span class="t" style="left:1314.99px;top:117px;font-size:12.4px;line-height:16px;color:#2E2E2E;transform:scaleX(0.9963);">Find &amp;</span>
<span class="t" style="left:1311.44px;top:133px;font-size:12.4px;line-height:16px;color:#2E2E2E;letter-spacing:0.04px;">Select</span>
<svg style="left:1347px;top:137.3px;" width="7.2" height="4.6" viewBox="0 0 7.2 4.6" fill="none"><path d="M1 1 L3.6 3.5 L6.2 1" stroke="#424242" stroke-width="1.25" stroke-linecap="round" stroke-linejoin="round"/></svg>
<svg style="left:1382px;top:84px;" width="29" height="29" viewBox="0 0 29 29" fill="none"><rect x=".8" y=".8" width="27.4" height="27.4" rx="1" stroke="#E2603A" stroke-width="1.3"/><rect x="4" y="4" width="9.2" height="9.2" stroke="#E2603A" stroke-width="1.3"/><rect x="16" y="4" width="9.2" height="9.2" stroke="#E2603A" stroke-width="1.3"/><rect x="4" y="16" width="9.2" height="9.2" stroke="#E2603A" stroke-width="1.3"/><rect x="16" y="16" width="9.2" height="9.2" stroke="#E2603A" stroke-width="1.3"/></svg>
<span class="t" style="left:1375.98px;top:117px;font-size:12.4px;line-height:16px;color:#2E2E2E;transform:scaleX(0.9910);">Add-ins</span>
<svg style="left:1442.7px;top:84.6px;" width="30" height="27.5" viewBox="0 0 30 27.5" fill="none"><defs><linearGradient id="cpa" x1="0" y1="0" x2="0" y2="1"><stop offset="0" stop-color="#18A2F2"/><stop offset=".3" stop-color="#1E9AD8"/><stop offset=".6" stop-color="#5DB560"/><stop offset=".85" stop-color="#CFC71C"/><stop offset="1" stop-color="#F6C800"/></linearGradient><linearGradient id="cpb" x1="0" y1="0" x2="0" y2="1"><stop offset="0" stop-color="#A651EA"/><stop offset=".3" stop-color="#D24FB7"/><stop offset=".6" stop-color="#F0518A"/><stop offset="1" stop-color="#FF9A50"/></linearGradient><linearGradient id="cpc" x1="0" y1="0" x2="1" y2="1"><stop offset="0" stop-color="#1330C8"/><stop offset="1" stop-color="#1F78E0"/></linearGradient><linearGradient id="cpd" x1="0" y1="0" x2="1" y2="1"><stop offset="0" stop-color="#FF7A3A"/><stop offset="1" stop-color="#E63A22"/></linearGradient></defs><path d="M14.4 .2H18.6C20.4 .2 21.4 1.4 21.9 3.2L23.2 7.4H14.4Z" fill="url(#cpc)"/><path d="M6.7 19.4H15.2L13.4 26.9H10.6C9.2 26.9 8.3 26.1 7.9 24.6Z" fill="url(#cpd)"/><path d="M6.6 .2H17.2C15.8 .7 15 1.9 14.5 3.6L10.9 16.4C10.4 18.2 9.4 19.4 7.6 19.4H3.2C1 19.4 -.1 17.8 .5 15.6L3.2 4.6C3.8 2 4.6 .2 6.6 .2Z" fill="url(#cpa)"/><path d="M23 26.9H12.4C13.8 26.4 14.6 25.2 15.1 23.5L18.7 10.8C19.2 9 20.2 7.8 22 7.8H26.4C28.6 7.8 29.7 9.4 29.1 11.6L26.4 22.5C25.8 25.1 25 26.9 23 26.9Z" fill="url(#cpb)"/></svg>
<span class="t" style="left:1437.37px;top:118px;font-size:12.4px;line-height:16px;color:#2E2E2E;letter-spacing:0.22px;">Copilot</span>
<svg style="left:1453px;top:138.9px;" width="7.2" height="4.6" viewBox="0 0 7.2 4.6" fill="none"><path d="M1 1 L3.6 3.5 L6.2 1" stroke="#424242" stroke-width="1.25" stroke-linecap="round" stroke-linejoin="round"/></svg>
<div style="left:5px;top:183.6px;width:100px;height:22.8px;background:#FFFFFF;border-radius:4px;box-shadow:0 0 0 1px rgba(0,0,0,.05),0 1px 1px rgba(0,0,0,.08);"></div>
<span class="t" style="left:9.58px;top:188px;font-size:12.4px;line-height:16px;color:#2E2E2E;letter-spacing:0.06px;">A1</span>
<svg style="left:90px;top:193.2px;" width="9.2" height="5.6" viewBox="0 0 9.2 5.6" fill="none"><path d="M1 1 L4.6 4.5 L8.2 1" stroke="#3A3A3A" stroke-width="1.1" stroke-linecap="round" stroke-linejoin="round"/></svg>
<div style="left:114.4px;top:190.2px;width:1.8px;height:1.8px;background:#3A3A3A;border-radius:50%;"></div>
<div style="left:114.4px;top:194.8px;width:1.8px;height:1.8px;background:#3A3A3A;border-radius:50%;"></div>
<div style="left:114.4px;top:199.4px;width:1.8px;height:1.8px;background:#3A3A3A;border-radius:50%;"></div>
<div style="left:126px;top:183.6px;width:84.5px;height:22.8px;background:#FFFFFF;border-radius:4px;box-shadow:0 0 0 1px rgba(0,0,0,.05),0 1px 1px rgba(0,0,0,.08);"></div>
<svg style="left:132px;top:189px;" width="13" height="13" viewBox="0 0 13 13" fill="none"><path d="M1.5 1.5L11.5 11.5M11.5 1.5L1.5 11.5" stroke="#B3B3B3" stroke-width="1.1"/></svg>
<svg style="left:155px;top:189px;" width="16" height="13" viewBox="0 0 16 13" fill="none"><path d="M1.2 7L5.4 11.4L14.6 1.6" stroke="#B3B3B3" stroke-width="1.1"/></svg>
<span class="t" style="left:180.4px;top:188px;font-size:17px;line-height:16px;color:#222;font-style:italic;font-family:'Liberation Serif',serif;letter-spacing:-.6px;">fx</span>
<svg style="left:199.8px;top:193.4px;" width="8.4" height="5.2" viewBox="0 0 8.4 5.2" fill="none"><path d="M1 1 L4.2 4.1 L7.4 1" stroke="#8A8A8A" stroke-width="1" stroke-linecap="round" stroke-linejoin="round"/></svg>
<div style="left:215.5px;top:183.6px;width:1307.5px;height:22.8px;background:#FFFFFF;border-radius:4px;box-shadow:0 0 0 1px rgba(0,0,0,.05),0 1px 1px rgba(0,0,0,.08);"></div>
<svg style="left:225px;top:187.5px;" width="15" height="16" viewBox="0 0 15 16" fill="none"><path d="M7.5 1.2C9 2.4 11 3 13.4 3V8C13.4 11.2 11.2 13.6 7.5 14.8C3.8 13.6 1.6 11.2 1.6 8V3C4 3 6 2.4 7.5 1.2Z" stroke="#2B2B2B" stroke-width="1.1" stroke-linejoin="round"/><path d="M7.5 5V11M4.5 8H10.5" stroke="#2B2B2B" stroke-width="1.5"/></svg>
<span class="t" style="left:241.98px;top:188px;font-size:12.6px;line-height:16px;color:#242424;transform:scaleX(0.9234);">ATTENDANCE TIMECLOCK &amp; LEAVE REPORT</span>
<svg style="left:1509px;top:192.2px;" width="9.2" height="5.6" viewBox="0 0 9.2 5.6" fill="none"><path d="M1 1 L4.6 4.5 L8.2 1" stroke="#3A3A3A" stroke-width="1.1" stroke-linecap="round" stroke-linejoin="round"/></svg>
<!-- worksheet -->
<div id="sheet">
<div style="left:0px;top:214px;width:1511px;height:546px;background:#FFFFFF;"></div>
<div style="left:0px;top:214px;width:18.5px;height:15px;background:#EFEFEF;"></div>
<div style="left:18.5px;top:214px;width:1445px;height:15px;background:#E1E1E1;"></div>
<div style="left:1463.5px;top:214px;width:47.5px;height:15px;background:#EFEFEF;"></div>
<svg style="left:6px;top:217px;" width="11" height="11" viewBox="0 0 11 11" fill="none"><path d="M10 1V10H1Z" fill="#D6D6D6"/></svg>
<div style="left:141px;top:215px;width:1px;height:14px;background:#C9C9C9;"></div>
<div style="left:251px;top:215px;width:1px;height:14px;background:#C9C9C9;"></div>
<div style="left:410px;top:215px;width:1px;height:14px;background:#C9C9C9;"></div>
<div style="left:630px;top:215px;width:1px;height:14px;background:#C9C9C9;"></div>
<div style="left:802px;top:215px;width:1px;height:14px;background:#C9C9C9;"></div>
<div style="left:912px;top:215px;width:1px;height:14px;background:#C9C9C9;"></div>
<div style="left:1022px;top:215px;width:1px;height:14px;background:#C9C9C9;"></div>
<div style="left:1145px;top:215px;width:1px;height:14px;background:#C9C9C9;"></div>
<div style="left:1316px;top:215px;width:1px;height:14px;background:#C9C9C9;"></div>
<div style="left:1463px;top:215px;width:1px;height:14px;background:#C9C9C9;"></div>
<div style="left:1464.5px;top:229px;width:46.5px;height:1px;background:#CDCDCD;"></div>
<span class="t" style="left:76.07px;top:215px;font-size:11.4px;line-height:15px;color:#1B6B3F;">A</span>
<span class="t" style="left:192.46px;top:215px;font-size:11.4px;line-height:15px;color:#1B6B3F;">B</span>
<span class="t" style="left:326.81px;top:215px;font-size:11.4px;line-height:15px;color:#1B6B3F;">C</span>
<span class="t" style="left:516.29px;top:215px;font-size:11.4px;line-height:15px;color:#1B6B3F;">D</span>
<span class="t" style="left:712.38px;top:215px;font-size:11.4px;line-height:15px;color:#1B6B3F;">E</span>
<span class="t" style="left:853.53px;top:215px;font-size:11.4px;line-height:15px;color:#1B6B3F;">F</span>
<span class="t" style="left:963.36px;top:215px;font-size:11.4px;line-height:15px;color:#1B6B3F;">G</span>
<span class="t" style="left:1079.83px;top:215px;font-size:11.4px;line-height:15px;color:#1B6B3F;">H</span>
<span class="t" style="left:1229.22px;top:215px;font-size:11.4px;line-height:15px;color:#1B6B3F;">I</span>
<span class="t" style="left:1387.53px;top:215px;font-size:11.4px;line-height:15px;color:#1B6B3F;">J</span>
<span class="t" style="left:1487.52px;top:215px;font-size:11.6px;line-height:15px;color:#3b3b3b;">K</span>
<div style="left:0px;top:229px;width:18.5px;height:531px;background:#EFEFEF;"></div>
<div style="left:0px;top:229px;width:18.5px;height:46px;background:#E1E1E1;"></div>
<div style="left:18px;top:229px;width:1px;height:531px;background:#CFCFCF;"></div>
<div style="left:19px;top:229px;width:1444.5px;height:46px;background:#E3F2FD;"></div>
<div style="left:19px;top:275px;width:1444.5px;height:38.5px;background:#F0F7FF;"></div>
<div style="left:19px;top:313.5px;width:1444.5px;height:34.5px;background:#F8F9FA;"></div>
<div style="left:1464px;top:275px;width:47px;height:1px;background:#E4E4E4;"></div>
<div style="left:1464px;top:313px;width:47px;height:1px;background:#E4E4E4;"></div>
<div style="left:1464px;top:348px;width:47px;height:1px;background:#E4E4E4;"></div>
<div style="left:1464px;top:364px;width:47px;height:1px;background:#E4E4E4;"></div>
<div style="left:141px;top:349px;width:1px;height:15px;background:#E6E6E6;"></div>
<div style="left:251px;top:349px;width:1px;height:15px;background:#E6E6E6;"></div>
<div style="left:410px;top:349px;width:1px;height:15px;background:#E6E6E6;"></div>
<div style="left:630px;top:349px;width:1px;height:15px;background:#E6E6E6;"></div>
<div style="left:802px;top:349px;width:1px;height:15px;background:#E6E6E6;"></div>
<div style="left:912px;top:349px;width:1px;height:15px;background:#E6E6E6;"></div>
<div style="left:1022px;top:349px;width:1px;height:15px;background:#E6E6E6;"></div>
<div style="left:1145px;top:349px;width:1px;height:15px;background:#E6E6E6;"></div>
<div style="left:1316px;top:349px;width:1px;height:15px;background:#E6E6E6;"></div>
<div style="left:1463px;top:349px;width:1px;height:15px;background:#E6E6E6;"></div>
<div style="left:19px;top:364px;width:1492px;height:1px;background:#E9E9E9;"></div>
<div style="left:19px;top:313px;width:122.5px;height:2px;background:#1F4E79;"></div>
<div style="left:19px;top:347px;width:122.5px;height:2px;background:#1F4E79;"></div>
<div style="left:19px;top:276px;width:1px;height:72px;background:#1F4E79;"></div>
<svg style="left:0;top:220px" width="1528" height="64" viewBox="0 220 1528 64" fill="none"><rect x="18.4" y="229.6" width="1445.2" height="45.5" stroke="#107C41" stroke-width="1.8"/><rect x="19.8" y="231" width="1442.4" height="42.7" stroke="#fff" stroke-width=".9" stroke-opacity=".85"/><rect x="1460.6" y="272.2" width="5.6" height="5.6" fill="#107C41" stroke="#fff" stroke-width=".9"/></svg>
<span class="t" style="left:502.01px;top:236px;font-size:25.2px;line-height:33px;color:#1F4E79;transform:scaleX(0.9369);font-weight:700;">ATTENDANCE TIMECLOCK &amp; LEAVE REPORT</span>
<span class="t" style="left:603.47px;top:283px;font-size:17.2px;line-height:22px;color:#4A7FC1;transform:scaleX(0.9847);font-weight:700;">Date Range: 2026-02-16 to 2026-02-22</span>
<span class="t" style="left:624.45px;top:323px;font-size:11.8px;line-height:15px;color:#4F86C6;transform:scaleX(0.9457);font-style:italic;">Generated: Sunday, 22 February 2026 at 20:49:22</span>
<svg style="left:467px;top:238.6px;" width="22.4" height="26.4" viewBox="0 0 22.4 26.4" fill="none"><path d="M2.4 .6H14.6L17.8 3.8V17H.4V2.6A2 2 0 0 1 2.4 .6Z" fill="#1F4E79"/><rect x="2.8" y="1.4" width="8.8" height="7.6" rx="1.6" fill="#E3F2FD"/><circle cx="7.2" cy="5.2" r="2.7" fill="#1F4E79"/><circle cx="7.2" cy="5.2" r="1.3" fill="#E3F2FD"/><path d="M.4 15H5.4V16.2H21.6V25.6H.4Z" fill="#1F4E79"/><rect x="7" y="17.8" width="12.4" height="4.2" fill="#A9C0DA"/><rect x="6.6" y="24.4" width="1.6" height="1.4" fill="#E3F2FD"/><rect x="9.8" y="24.4" width="1.6" height="1.4" fill="#E3F2FD"/><rect x="13" y="24.4" width="1.6" height="1.4" fill="#E3F2FD"/></svg>
<svg style="left:579px;top:285px;" width="18" height="17" viewBox="0 0 18 17" fill="none"><circle cx="7" cy="7" r="6" fill="#4A7FC1"/><circle cx="6" cy="5.6" r="3" fill="#7FA6D8"/><path d="M11.5 11.5L16 15" stroke="#4A7FC1" stroke-width="3.4" stroke-linecap="round"/></svg>
<svg style="left:608px;top:323px;" width="15" height="13" viewBox="0 0 15 13" fill="none"><path d="M3.2 1.2h10.3l-1.7 10.6H1.2z" stroke="#4F86C6" stroke-width="1.1" fill="#EAF2FC" stroke-linejoin="round"/><path d="M3 3.6h10.2" stroke="#4F86C6" stroke-width="1.4"/><path d="M4.6 5.6l-.7 4.6M7.3 5.6l-.7 4.6M10 5.6l-.7 4.6" stroke="#4F86C6" stroke-width="1.1"/></svg>
<div style="left:20px;top:366px;width:120.05px;height:31px;background:#1F4E79;"></div>
<span class="t" style="left:66px;top:372px;font-size:14.2px;line-height:18px;color:#FFFFFF;transform:scaleX(0.9712);font-weight:700;">Date</span>
<div style="left:124.05px;top:381px;width:16px;height:16.5px;background:linear-gradient(#FFFFFF,#E9E9E9);border-left:1px solid #f4f4f4;border-top:1px solid #f4f4f4;box-sizing:border-box;"></div>
<svg style="left:128.65px;top:387.6px;" width="7" height="4" viewBox="0 0 7 4" fill="none"><path d="M0 0H7L3.5 3.6Z" fill="#4D4D4D"/></svg>
<div style="left:142.45px;top:366px;width:107.95px;height:31px;background:#1F4E79;"></div>
<span class="t" style="left:184.31px;top:372px;font-size:14.2px;line-height:18px;color:#FFFFFF;transform:scaleX(0.9591);font-weight:700;">Day</span>
<div style="left:234.4px;top:381px;width:16px;height:16.5px;background:linear-gradient(#FFFFFF,#E9E9E9);border-left:1px solid #f4f4f4;border-top:1px solid #f4f4f4;box-sizing:border-box;"></div>
<svg style="left:239px;top:387.6px;" width="7" height="4" viewBox="0 0 7 4" fill="none"><path d="M0 0H7L3.5 3.6Z" fill="#4D4D4D"/></svg>
<div style="left:252.8px;top:366px;width:156.4px;height:31px;background:#1F4E79;"></div>
<span class="t" style="left:294.15px;top:372px;font-size:14.2px;line-height:18px;color:#FFFFFF;transform:scaleX(0.9449);font-weight:700;">Department</span>
<div style="left:393.2px;top:381px;width:16px;height:16.5px;background:linear-gradient(#FFFFFF,#E9E9E9);border-left:1px solid #f4f4f4;border-top:1px solid #f4f4f4;box-sizing:border-box;"></div>
<svg style="left:397.8px;top:387.6px;" width="7" height="4" viewBox="0 0 7 4" fill="none"><path d="M0 0H7L3.5 3.6Z" fill="#4D4D4D"/></svg>
<div style="left:411.6px;top:366px;width:218px;height:31px;background:#1F4E79;"></div>
<span class="t" style="left:470.27px;top:372px;font-size:14.2px;line-height:18px;color:#FFFFFF;transform:scaleX(0.9282);font-weight:700;">Employee Name</span>
<div style="left:613.6px;top:381px;width:16px;height:16.5px;background:linear-gradient(#FFFFFF,#E9E9E9);border-left:1px solid #f4f4f4;border-top:1px solid #f4f4f4;box-sizing:border-box;"></div>
<svg style="left:618.2px;top:387.6px;" width="7" height="4" viewBox="0 0 7 4" fill="none"><path d="M0 0H7L3.5 3.6Z" fill="#4D4D4D"/></svg>
<div style="left:632px;top:366px;width:168.8px;height:31px;background:#1F4E79;"></div>
<span class="t" style="left:685.82px;top:372px;font-size:14.2px;line-height:18px;color:#FFFFFF;transform:scaleX(0.9297);font-weight:700;">Shift Type</span>
<div style="left:784.8px;top:381px;width:16px;height:16.5px;background:linear-gradient(#FFFFFF,#E9E9E9);border-left:1px solid #f4f4f4;border-top:1px solid #f4f4f4;box-sizing:border-box;"></div>
<svg style="left:789.4px;top:387.6px;" width="7" height="4" viewBox="0 0 7 4" fill="none"><path d="M0 0H7L3.5 3.6Z" fill="#4D4D4D"/></svg>
<div style="left:803.2px;top:366px;width:108.1px;height:31px;background:#1F4E79;"></div>
<span class="t" style="left:832.76px;top:372px;font-size:14.2px;line-height:18px;color:#FFFFFF;transform:scaleX(0.9205);font-weight:700;">Clock In</span>
<div style="left:895.3px;top:381px;width:16px;height:16.5px;background:linear-gradient(#FFFFFF,#E9E9E9);border-left:1px solid #f4f4f4;border-top:1px solid #f4f4f4;box-sizing:border-box;"></div>
<svg style="left:899.9px;top:387.6px;" width="7" height="4" viewBox="0 0 7 4" fill="none"><path d="M0 0H7L3.5 3.6Z" fill="#4D4D4D"/></svg>
<div style="left:913.7px;top:366px;width:107.9px;height:31px;background:#1F4E79;"></div>
<span class="t" style="left:937.41px;top:372px;font-size:14.2px;line-height:18px;color:#FFFFFF;transform:scaleX(0.9199);font-weight:700;">Clock Out</span>
<div style="left:1005.6px;top:381px;width:16px;height:16.5px;background:linear-gradient(#FFFFFF,#E9E9E9);border-left:1px solid #f4f4f4;border-top:1px solid #f4f4f4;box-sizing:border-box;"></div>
<svg style="left:1010.2px;top:387.6px;" width="7" height="4" viewBox="0 0 7 4" fill="none"><path d="M0 0H7L3.5 3.6Z" fill="#4D4D4D"/></svg>
<div style="left:1024px;top:366px;width:119.9px;height:31px;background:#1F4E79;"></div>
<span class="t" style="left:1057.1px;top:372px;font-size:14.2px;line-height:18px;color:#FFFFFF;transform:scaleX(0.9461);font-weight:700;">Duration</span>
<div style="left:1127.9px;top:381px;width:16px;height:16.5px;background:linear-gradient(#FFFFFF,#E9E9E9);border-left:1px solid #f4f4f4;border-top:1px solid #f4f4f4;box-sizing:border-box;"></div>
<svg style="left:1132.5px;top:387.6px;" width="7" height="4" viewBox="0 0 7 4" fill="none"><path d="M0 0H7L3.5 3.6Z" fill="#4D4D4D"/></svg>
<div style="left:1146.3px;top:366px;width:169px;height:31px;background:#1F4E79;"></div>
<span class="t" style="left:1183.2px;top:372px;font-size:14.2px;line-height:18px;color:#FFFFFF;transform:scaleX(0.9135);font-weight:700;">Time Difference</span>
<div style="left:1299.3px;top:381px;width:16px;height:16.5px;background:linear-gradient(#FFFFFF,#E9E9E9);border-left:1px solid #f4f4f4;border-top:1px solid #f4f4f4;box-sizing:border-box;"></div>
<svg style="left:1303.9px;top:387.6px;" width="7" height="4" viewBox="0 0 7 4" fill="none"><path d="M0 0H7L3.5 3.6Z" fill="#4D4D4D"/></svg>
<div style="left:1317.7px;top:366px;width:144.7px;height:31px;background:#1F4E79;"></div>
<span class="t" style="left:1371.48px;top:372px;font-size:14.2px;line-height:18px;color:#FFFFFF;transform:scaleX(0.8961);font-weight:700;">Status</span>
<div style="left:1446.4px;top:381px;width:16px;height:16.5px;background:linear-gradient(#FFFFFF,#E9E9E9);border-left:1px solid #f4f4f4;border-top:1px solid #f4f4f4;box-sizing:border-box;"></div>
<svg style="left:1451px;top:387.6px;" width="7" height="4" viewBox="0 0 7 4" fill="none"><path d="M0 0H7L3.5 3.6Z" fill="#4D4D4D"/></svg>
<div id="data" style="left:0;top:0;width:1528px;height:760px;clip-path:inset(398px 0 0 0);">
<div style="left:22.1px;top:398.5px;width:116.85px;height:8.95px;background:#F8F9FA;"></div>
<div style="left:143.85px;top:398.5px;width:105.45px;height:8.95px;background:#F8F9FA;"></div>
<div style="left:254.2px;top:398.5px;width:153.9px;height:8.95px;background:#F8F9FA;"></div>
<div style="left:633.4px;top:398.5px;width:166.3px;height:8.95px;background:#F8F9FA;"></div>
<div style="left:804.6px;top:398.5px;width:105.6px;height:8.95px;background:#F8F9FA;"></div>
<div style="left:915.1px;top:398.5px;width:105.4px;height:8.95px;background:#F8F9FA;"></div>
<div style="left:1025.4px;top:398.5px;width:117.4px;height:8.95px;background:#F8F9FA;"></div>
<div style="left:1147.7px;top:398.5px;width:166.5px;height:8.95px;background:#F8F9FA;"></div>
<div style="left:1319.1px;top:398.5px;width:142.2px;height:8.95px;background:#F8F9FA;"></div>
<span class="t" style="left:46.1px;top:384px;font-size:14.4px;line-height:19px;color:#2A2A2A;transform:scaleX(0.9266);">2026-02-16</span>
<span class="t" style="left:172.6px;top:385px;font-size:13.4px;line-height:17px;color:#2A2A2A;transform:scaleX(0.9775);">Monday</span>
<span class="t" style="left:253.9px;top:385px;font-size:13.4px;line-height:17px;color:#2A2A2A;letter-spacing:0.06px;">Nursing</span>
<svg style="left:1182.55px;top:388.27px;" width="13" height="13" viewBox="0 0 13 13" fill="none"><rect x="0.75" y="0.75" width="11.5" height="11.5" rx="2.2" stroke="#2b2b2b" stroke-width="1.3" fill="#fff"/><path d="M3.6 6.1a3 3 0 0 1 5.3-1.6" stroke="#2b2b2b" stroke-width="1.3"/><path d="M9.4 6.9a3 3 0 0 1-5.3 1.6" stroke="#2b2b2b" stroke-width="1.3"/><path d="M9.6 2.8v2.4H7.2z" fill="#2b2b2b"/><path d="M3.4 10.2V7.8h2.4z" fill="#2b2b2b"/></svg>
<span class="t" style="left:1201.91px;top:385px;font-size:13.4px;line-height:17px;color:#2A2A2A;transform:scaleX(0.9741);">+2h Overtime</span>
<span class="t" style="left:1345.33px;top:385px;font-size:13.4px;line-height:17px;color:#2A2A2A;transform:scaleX(0.9530);">Auto-completed</span>
<div style="left:22.1px;top:412.45px;width:116.85px;height:24.57px;background:#F8F9FA;"></div>
<div style="left:143.85px;top:412.45px;width:105.45px;height:24.57px;background:#F8F9FA;"></div>
<div style="left:254.2px;top:412.45px;width:153.9px;height:24.57px;background:#F8F9FA;"></div>
<div style="left:633.4px;top:412.45px;width:166.3px;height:24.57px;background:#F8F9FA;"></div>
<div style="left:804.6px;top:412.45px;width:105.6px;height:24.57px;background:#F8F9FA;"></div>
<div style="left:915.1px;top:412.45px;width:105.4px;height:24.57px;background:#F8F9FA;"></div>
<div style="left:1025.4px;top:412.45px;width:117.4px;height:24.57px;background:#F8F9FA;"></div>
<div style="left:1147.7px;top:412.45px;width:166.5px;height:24.57px;background:#F8F9FA;"></div>
<div style="left:1319.1px;top:412.45px;width:142.2px;height:24.57px;background:#F8F9FA;"></div>
<span class="t" style="left:46.1px;top:415px;font-size:14.4px;line-height:19px;color:#2A2A2A;transform:scaleX(0.9266);">2026-02-16</span>
<span class="t" style="left:172.6px;top:416px;font-size:13.4px;line-height:17px;color:#2A2A2A;transform:scaleX(0.9775);">Monday</span>
<span class="t" style="left:254.04px;top:416px;font-size:13.4px;line-height:17px;color:#2A2A2A;transform:scaleX(0.9307);">Unassigned</span>
<span class="t" style="left:633.32px;top:416px;font-size:13.4px;line-height:17px;color:#2A2A2A;transform:scaleX(0.9816);">No Activity</span>
<span class="t" style="left:1147.78px;top:421px;font-size:12.9px;line-height:17px;color:#2A2A2A;transform:scaleX(0.9640);">No Data</span>
<span class="t" style="left:1357.82px;top:416px;font-size:13.4px;line-height:17px;color:#B7BBC0;transform:scaleX(0.9281);font-weight:700;">No Activity</span>
<div style="left:22.1px;top:442.03px;width:116.85px;height:24.57px;background:#F8F9FA;"></div>
<div style="left:143.85px;top:442.03px;width:105.45px;height:24.57px;background:#F8F9FA;"></div>
<div style="left:254.2px;top:442.03px;width:153.9px;height:24.57px;background:#F8F9FA;"></div>
<div style="left:633.4px;top:442.03px;width:166.3px;height:24.57px;background:#F8F9FA;"></div>
<div style="left:804.6px;top:442.03px;width:105.6px;height:24.57px;background:#F8F9FA;"></div>
<div style="left:915.1px;top:442.03px;width:105.4px;height:24.57px;background:#F8F9FA;"></div>
<div style="left:1025.4px;top:442.03px;width:117.4px;height:24.57px;background:#F8F9FA;"></div>
<div style="left:1147.7px;top:442.03px;width:166.5px;height:24.57px;background:#F8F9FA;"></div>
<div style="left:1319.1px;top:442.03px;width:142.2px;height:24.57px;background:#F8F9FA;"></div>
<span class="t" style="left:46.1px;top:444px;font-size:14.4px;line-height:19px;color:#2A2A2A;transform:scaleX(0.9266);">2026-02-16</span>
<span class="t" style="left:172.6px;top:445px;font-size:13.4px;line-height:17px;color:#2A2A2A;transform:scaleX(0.9775);">Monday</span>
<span class="t" style="left:253.95px;top:445px;font-size:13.4px;line-height:17px;color:#2A2A2A;transform:scaleX(0.9535);">Laundry</span>
<span class="t" style="left:633.37px;top:445px;font-size:13.4px;line-height:17px;color:#2A2A2A;transform:scaleX(0.9405);">Laundry 08:00 -12:00</span>
<span class="t" style="left:832.56px;top:444px;font-size:14.4px;line-height:19px;color:#2A2A2A;transform:scaleX(0.8629);">07:15:50</span>
<span class="t" style="left:943.02px;top:444px;font-size:14.4px;line-height:19px;color:#2A2A2A;transform:scaleX(0.8655);">20:15:50</span>
<span class="t" style="left:1052.94px;top:444px;font-size:14px;line-height:18px;color:#2A2A2A;transform:scaleX(0.9463);">13h 00min</span>
<svg style="left:1182.55px;top:447.41px;" width="13" height="13" viewBox="0 0 13 13" fill="none"><rect x="0.75" y="0.75" width="11.5" height="11.5" rx="2.2" stroke="#2b2b2b" stroke-width="1.3" fill="#fff"/><path d="M3.6 6.1a3 3 0 0 1 5.3-1.6" stroke="#2b2b2b" stroke-width="1.3"/><path d="M9.4 6.9a3 3 0 0 1-5.3 1.6" stroke="#2b2b2b" stroke-width="1.3"/><path d="M9.6 2.8v2.4H7.2z" fill="#2b2b2b"/><path d="M3.4 10.2V7.8h2.4z" fill="#2b2b2b"/></svg>
<span class="t" style="left:1201.91px;top:445px;font-size:13.4px;line-height:17px;color:#2A2A2A;transform:scaleX(0.9741);">+9h Overtime</span>
<span class="t" style="left:1345.33px;top:445px;font-size:13.4px;line-height:17px;color:#2A2A2A;transform:scaleX(0.9530);">Auto-completed</span>
<div style="left:22.1px;top:471.6px;width:116.85px;height:24.58px;background:#F8F9FA;"></div>
<div style="left:143.85px;top:471.6px;width:105.45px;height:24.58px;background:#F8F9FA;"></div>
<div style="left:254.2px;top:471.6px;width:153.9px;height:24.58px;background:#F8F9FA;"></div>
<div style="left:633.4px;top:471.6px;width:166.3px;height:24.58px;background:#F8F9FA;"></div>
<div style="left:804.6px;top:471.6px;width:105.6px;height:24.58px;background:#F8F9FA;"></div>
<div style="left:915.1px;top:471.6px;width:105.4px;height:24.58px;background:#F8F9FA;"></div>
<div style="left:1025.4px;top:471.6px;width:117.4px;height:24.58px;background:#F8F9FA;"></div>
<div style="left:1147.7px;top:471.6px;width:166.5px;height:24.58px;background:#F8F9FA;"></div>
<div style="left:1319.1px;top:471.6px;width:142.2px;height:24.58px;background:#F8F9FA;"></div>
<span class="t" style="left:46.1px;top:474px;font-size:14.4px;line-height:19px;color:#2A2A2A;transform:scaleX(0.9266);">2026-02-16</span>
<span class="t" style="left:172.6px;top:475px;font-size:13.4px;line-height:17px;color:#2A2A2A;transform:scaleX(0.9775);">Monday</span>
<span class="t" style="left:254.97px;top:475px;font-size:13.4px;line-height:17px;color:#2A2A2A;transform:scaleX(0.9734);">Admin</span>
<span class="t" style="left:634.38px;top:475px;font-size:13.4px;line-height:17px;color:#2A2A2A;transform:scaleX(0.9390);">Admin 09:00 - 17:00</span>
<span class="t" style="left:832.56px;top:474px;font-size:14.4px;line-height:19px;color:#2A2A2A;transform:scaleX(0.8655);">08:54:32</span>
<span class="t" style="left:943.02px;top:474px;font-size:14.4px;line-height:19px;color:#2A2A2A;transform:scaleX(0.8680);">21:54:32</span>
<span class="t" style="left:1052.94px;top:474px;font-size:14px;line-height:18px;color:#2A2A2A;transform:scaleX(0.9463);">13h 00min</span>
<svg style="left:1182.55px;top:476.99px;" width="13" height="13" viewBox="0 0 13 13" fill="none"><rect x="0.75" y="0.75" width="11.5" height="11.5" rx="2.2" stroke="#2b2b2b" stroke-width="1.3" fill="#fff"/><path d="M3.6 6.1a3 3 0 0 1 5.3-1.6" stroke="#2b2b2b" stroke-width="1.3"/><path d="M9.4 6.9a3 3 0 0 1-5.3 1.6" stroke="#2b2b2b" stroke-width="1.3"/><path d="M9.6 2.8v2.4H7.2z" fill="#2b2b2b"/><path d="M3.4 10.2V7.8h2.4z" fill="#2b2b2b"/></svg>
<span class="t" style="left:1201.91px;top:475px;font-size:13.4px;line-height:17px;color:#2A2A2A;transform:scaleX(0.9741);">+5h Overtime</span>
<span class="t" style="left:1345.33px;top:475px;font-size:13.4px;line-height:17px;color:#2A2A2A;transform:scaleX(0.9530);">Auto-completed</span>
<div style="left:253.2px;top:500.18px;width:155.6px;height:26.37px;background:#FFF2E0;"></div>
<div style="left:1319.1px;top:501.18px;width:142.2px;height:24.57px;background:#FAFAFA;"></div>
<span class="t" style="left:46.1px;top:504px;font-size:14.4px;line-height:19px;color:#2A2A2A;transform:scaleX(0.9266);">2026-02-16</span>
<span class="t" style="left:172.6px;top:505px;font-size:13.4px;line-height:17px;color:#2A2A2A;transform:scaleX(0.9775);">Monday</span>
<span class="t" style="left:253.95px;top:505px;font-size:13.4px;line-height:17px;color:#2A2A2A;transform:scaleX(0.9574);">Nurse</span>
<span class="t" style="left:633.32px;top:505px;font-size:13.4px;line-height:17px;color:#2A2A2A;transform:scaleX(0.9816);">No Activity</span>
<span class="t" style="left:1147.78px;top:510px;font-size:12.9px;line-height:17px;color:#2A2A2A;transform:scaleX(0.9640);">No Data</span>
<span class="t" style="left:1357.82px;top:505px;font-size:13.4px;line-height:17px;color:#B7BBC0;transform:scaleX(0.9281);font-weight:700;">No Activity</span>
<div style="left:22.1px;top:530.75px;width:116.85px;height:24.58px;background:#F8F9FA;"></div>
<div style="left:143.85px;top:530.75px;width:105.45px;height:24.58px;background:#F8F9FA;"></div>
<div style="left:254.2px;top:530.75px;width:153.9px;height:24.58px;background:#F8F9FA;"></div>
<div style="left:633.4px;top:530.75px;width:166.3px;height:24.58px;background:#F8F9FA;"></div>
<div style="left:804.6px;top:530.75px;width:105.6px;height:24.58px;background:#F8F9FA;"></div>
<div style="left:915.1px;top:530.75px;width:105.4px;height:24.58px;background:#F8F9FA;"></div>
<div style="left:1025.4px;top:530.75px;width:117.4px;height:24.58px;background:#F8F9FA;"></div>
<div style="left:1147.7px;top:530.75px;width:166.5px;height:24.58px;background:#F8F9FA;"></div>
<div style="left:1319.1px;top:530.75px;width:142.2px;height:24.58px;background:#F8F9FA;"></div>
<div style="left:253.2px;top:529.75px;width:155.6px;height:26.38px;background:#E8F5E9;"></div>
<span class="t" style="left:46.1px;top:533px;font-size:14.4px;line-height:19px;color:#2A2A2A;transform:scaleX(0.9266);">2026-02-16</span>
<span class="t" style="left:172.6px;top:534px;font-size:13.4px;line-height:17px;color:#2A2A2A;transform:scaleX(0.9775);">Monday</span>
<span class="t" style="left:254.35px;top:534px;font-size:13.4px;line-height:17px;color:#2A2A2A;transform:scaleX(0.9490);">Catering</span>
<span class="t" style="left:633.32px;top:534px;font-size:13.4px;line-height:17px;color:#2A2A2A;transform:scaleX(0.9816);">No Activity</span>
<span class="t" style="left:1147.78px;top:540px;font-size:12.9px;line-height:17px;color:#2A2A2A;transform:scaleX(0.9640);">No Data</span>
<span class="t" style="left:1357.82px;top:534px;font-size:13.4px;line-height:17px;color:#B7BBC0;transform:scaleX(0.9281);font-weight:700;">No Activity</span>
<div style="left:253.2px;top:559.33px;width:155.6px;height:26.37px;background:#FCE4EC;"></div>
<div style="left:1318.1px;top:559.33px;width:143.9px;height:26.37px;background:#E8F5E9;"></div>
<span class="t" style="left:46.1px;top:563px;font-size:14.4px;line-height:19px;color:#2A2A2A;transform:scaleX(0.9266);">2026-02-16</span>
<span class="t" style="left:172.6px;top:564px;font-size:13.4px;line-height:17px;color:#2A2A2A;transform:scaleX(0.9775);">Monday</span>
<span class="t" style="left:253.99px;top:564px;font-size:13.4px;line-height:17px;color:#2A2A2A;transform:scaleX(0.9151);">Human Resources</span>
<span class="t" style="left:633.38px;top:564px;font-size:13.4px;line-height:17px;color:#2A2A2A;transform:scaleX(0.9240);">HR 09:00 - 15:00</span>
<span class="t" style="left:832.56px;top:563px;font-size:14.4px;line-height:19px;color:#2A2A2A;transform:scaleX(0.8640);">08:49:56</span>
<span class="t" style="left:942.7px;top:563px;font-size:14.4px;line-height:19px;color:#2A2A2A;transform:scaleX(0.8691);">15:57:34</span>
<span class="t" style="left:1056.51px;top:563px;font-size:14px;line-height:18px;color:#2A2A2A;transform:scaleX(0.9559);">7h 07min</span>
<span class="t" style="left:1175.16px;top:564px;font-size:13.4px;line-height:17px;color:#2A2A2A;transform:scaleX(0.9793);">+1h 7min Overtime</span>
<span class="t" style="left:1356.92px;top:564px;font-size:13.4px;line-height:17px;color:#2FA84F;transform:scaleX(0.9557);font-weight:700;">Completed</span>
<div style="left:22.1px;top:589.9px;width:116.85px;height:24.58px;background:#F8F9FA;"></div>
<div style="left:143.85px;top:589.9px;width:105.45px;height:24.58px;background:#F8F9FA;"></div>
<div style="left:254.2px;top:589.9px;width:153.9px;height:24.58px;background:#F8F9FA;"></div>
<div style="left:633.4px;top:589.9px;width:166.3px;height:24.58px;background:#F8F9FA;"></div>
<div style="left:804.6px;top:589.9px;width:105.6px;height:24.58px;background:#F8F9FA;"></div>
<div style="left:915.1px;top:589.9px;width:105.4px;height:24.58px;background:#F8F9FA;"></div>
<div style="left:1025.4px;top:589.9px;width:117.4px;height:24.58px;background:#F8F9FA;"></div>
<div style="left:1147.7px;top:589.9px;width:166.5px;height:24.58px;background:#F8F9FA;"></div>
<div style="left:1319.1px;top:589.9px;width:142.2px;height:24.58px;background:#F8F9FA;"></div>
<div style="left:253.2px;top:588.9px;width:155.6px;height:26.38px;background:#E8F5E9;"></div>
<span class="t" style="left:46.1px;top:592px;font-size:14.4px;line-height:19px;color:#2A2A2A;transform:scaleX(0.9266);">2026-02-16</span>
<span class="t" style="left:172.6px;top:593px;font-size:13.4px;line-height:17px;color:#2A2A2A;transform:scaleX(0.9775);">Monday</span>
<span class="t" style="left:254.35px;top:593px;font-size:13.4px;line-height:17px;color:#2A2A2A;transform:scaleX(0.9490);">Catering</span>
<span class="t" style="left:633.32px;top:593px;font-size:13.4px;line-height:17px;color:#2A2A2A;transform:scaleX(0.9816);">No Activity</span>
<span class="t" style="left:1147.78px;top:599px;font-size:12.9px;line-height:17px;color:#2A2A2A;transform:scaleX(0.9640);">No Data</span>
<span class="t" style="left:1357.82px;top:593px;font-size:13.4px;line-height:17px;color:#B7BBC0;transform:scaleX(0.9281);font-weight:700;">No Activity</span>
<div style="left:253.2px;top:618.48px;width:155.6px;height:26.38px;background:#FFFDE7;"></div>
<div style="left:1319.1px;top:619.48px;width:142.2px;height:24.58px;background:#FAFAFA;"></div>
<span class="t" style="left:46.1px;top:622px;font-size:14.4px;line-height:19px;color:#2A2A2A;transform:scaleX(0.9266);">2026-02-16</span>
<span class="t" style="left:172.6px;top:623px;font-size:13.4px;line-height:17px;color:#2A2A2A;transform:scaleX(0.9775);">Monday</span>
<span class="t" style="left:253.95px;top:623px;font-size:13.4px;line-height:17px;color:#2A2A2A;transform:scaleX(0.9516);">Household</span>
<span class="t" style="left:633.32px;top:623px;font-size:13.4px;line-height:17px;color:#2A2A2A;transform:scaleX(0.9816);">No Activity</span>
<span class="t" style="left:1147.78px;top:628px;font-size:12.9px;line-height:17px;color:#2A2A2A;transform:scaleX(0.9640);">No Data</span>
<span class="t" style="left:1357.82px;top:623px;font-size:13.4px;line-height:17px;color:#B7BBC0;transform:scaleX(0.9281);font-weight:700;">No Activity</span>
<div style="left:22.1px;top:649.05px;width:116.85px;height:24.58px;background:#F8F9FA;"></div>
<div style="left:143.85px;top:649.05px;width:105.45px;height:24.58px;background:#F8F9FA;"></div>
<div style="left:254.2px;top:649.05px;width:153.9px;height:24.58px;background:#F8F9FA;"></div>
<div style="left:633.4px;top:649.05px;width:166.3px;height:24.58px;background:#F8F9FA;"></div>
<div style="left:804.6px;top:649.05px;width:105.6px;height:24.58px;background:#F8F9FA;"></div>
<div style="left:915.1px;top:649.05px;width:105.4px;height:24.58px;background:#F8F9FA;"></div>
<div style="left:1025.4px;top:649.05px;width:117.4px;height:24.58px;background:#F8F9FA;"></div>
<div style="left:1147.7px;top:649.05px;width:166.5px;height:24.58px;background:#F8F9FA;"></div>
<div style="left:1319.1px;top:649.05px;width:142.2px;height:24.58px;background:#F8F9FA;"></div>
<div style="left:253.2px;top:648.05px;width:155.6px;height:26.38px;background:#FFF2E0;"></div>
<span class="t" style="left:46.1px;top:651px;font-size:14.4px;line-height:19px;color:#2A2A2A;transform:scaleX(0.9266);">2026-02-16</span>
<span class="t" style="left:172.6px;top:652px;font-size:13.4px;line-height:17px;color:#2A2A2A;transform:scaleX(0.9775);">Monday</span>
<span class="t" style="left:253.95px;top:652px;font-size:13.4px;line-height:17px;color:#2A2A2A;transform:scaleX(0.9574);">Nurse</span>
<span class="t" style="left:633.32px;top:652px;font-size:13.4px;line-height:17px;color:#2A2A2A;transform:scaleX(0.9816);">No Activity</span>
<span class="t" style="left:1147.78px;top:658px;font-size:12.9px;line-height:17px;color:#2A2A2A;transform:scaleX(0.9640);">No Data</span>
<span class="t" style="left:1357.82px;top:652px;font-size:13.4px;line-height:17px;color:#B7BBC0;transform:scaleX(0.9281);font-weight:700;">No Activity</span>
<div style="left:253.2px;top:677.63px;width:155.6px;height:26.37px;background:#F9FBE7;"></div>
<div style="left:1146.7px;top:677.63px;width:168.2px;height:26.37px;background:#FFF3E0;"></div>
<div style="left:1318.1px;top:677.63px;width:143.9px;height:26.37px;background:#FFF3E0;"></div>
<span class="t" style="left:46.1px;top:681px;font-size:14.4px;line-height:19px;color:#2A2A2A;transform:scaleX(0.9266);">2026-02-16</span>
<span class="t" style="left:172.6px;top:682px;font-size:13.4px;line-height:17px;color:#2A2A2A;transform:scaleX(0.9775);">Monday</span>
<span class="t" style="left:254.02px;top:682px;font-size:13.4px;line-height:17px;color:#2A2A2A;transform:scaleX(0.8871);">HCA</span>
<span class="t" style="left:633.35px;top:682px;font-size:13.4px;line-height:17px;color:#2A2A2A;transform:scaleX(0.9595);">Holiday</span>
<span class="t" style="left:1208.48px;top:682px;font-size:13.4px;line-height:17px;color:#2A2A2A;transform:scaleX(0.9756);">Holiday</span>
<span class="t" style="left:1357.94px;top:682px;font-size:13.4px;line-height:17px;color:#2A2A2A;transform:scaleX(0.9600);">On Holiday</span>
<div style="left:22.1px;top:708.2px;width:116.85px;height:24.57px;background:#F8F9FA;"></div>
<div style="left:143.85px;top:708.2px;width:105.45px;height:24.57px;background:#F8F9FA;"></div>
<div style="left:254.2px;top:708.2px;width:153.9px;height:24.57px;background:#F8F9FA;"></div>
<div style="left:633.4px;top:708.2px;width:166.3px;height:24.57px;background:#F8F9FA;"></div>
<div style="left:804.6px;top:708.2px;width:105.6px;height:24.57px;background:#F8F9FA;"></div>
<div style="left:915.1px;top:708.2px;width:105.4px;height:24.57px;background:#F8F9FA;"></div>
<div style="left:1025.4px;top:708.2px;width:117.4px;height:24.57px;background:#F8F9FA;"></div>
<div style="left:1147.7px;top:708.2px;width:166.5px;height:24.57px;background:#F8F9FA;"></div>
<div style="left:1319.1px;top:708.2px;width:142.2px;height:24.57px;background:#F8F9FA;"></div>
<span class="t" style="left:46.1px;top:711px;font-size:14.4px;line-height:19px;color:#2A2A2A;transform:scaleX(0.9266);">2026-02-16</span>
<span class="t" style="left:172.6px;top:712px;font-size:13.4px;line-height:17px;color:#2A2A2A;transform:scaleX(0.9775);">Monday</span>
<span class="t" style="left:254.35px;top:712px;font-size:13.4px;line-height:17px;color:#2A2A2A;transform:scaleX(0.9490);">Catering</span>
<span class="t" style="left:633.38px;top:712px;font-size:13.4px;line-height:17px;color:#2A2A2A;transform:scaleX(0.9243);">Evening wash up</span>
<span class="t" style="left:832.09px;top:711px;font-size:14.4px;line-height:19px;color:#2A2A2A;transform:scaleX(0.8725);">17:36:03</span>
<span class="t" style="left:943.16px;top:711px;font-size:14.4px;line-height:19px;color:#2A2A2A;transform:scaleX(0.8640);">06:36:03</span>
<span class="t" style="left:1052.94px;top:711px;font-size:14px;line-height:18px;color:#2A2A2A;transform:scaleX(0.9463);">13h 00min</span>
<svg style="left:1179.05px;top:713.59px;" width="13" height="13" viewBox="0 0 13 13" fill="none"><rect x="0.75" y="0.75" width="11.5" height="11.5" rx="2.2" stroke="#2b2b2b" stroke-width="1.3" fill="#fff"/><path d="M3.6 6.1a3 3 0 0 1 5.3-1.6" stroke="#2b2b2b" stroke-width="1.3"/><path d="M9.4 6.9a3 3 0 0 1-5.3 1.6" stroke="#2b2b2b" stroke-width="1.3"/><path d="M9.6 2.8v2.4H7.2z" fill="#2b2b2b"/><path d="M3.4 10.2V7.8h2.4z" fill="#2b2b2b"/></svg>
<span class="t" style="left:1198.41px;top:712px;font-size:13.4px;line-height:17px;color:#2A2A2A;transform:scaleX(0.9824);">+11h Overtime</span>
<span class="t" style="left:1345.33px;top:712px;font-size:13.4px;line-height:17px;color:#2A2A2A;transform:scaleX(0.9530);">Auto-completed</span>
<div style="left:253.2px;top:736.77px;width:155.6px;height:22.63px;background:#F1F8E9;"></div>
<div style="left:1318.1px;top:736.77px;width:143.9px;height:22.63px;background:#E8F5E9;"></div>
<span class="t" style="left:46.1px;top:740px;font-size:14.4px;line-height:19px;color:#2A2A2A;transform:scaleX(0.9266);">2026-02-16</span>
<span class="t" style="left:172.6px;top:741px;font-size:13.4px;line-height:17px;color:#2A2A2A;transform:scaleX(0.9775);">Monday</span>
<span class="t" style="left:253.94px;top:741px;font-size:13.4px;line-height:17px;color:#2A2A2A;transform:scaleX(0.9668);">Director of Nursing</span>
<span class="t" style="left:633.39px;top:741px;font-size:13.4px;line-height:17px;color:#2A2A2A;transform:scaleX(0.9185);">DON: 8:00–16:00</span>
<span class="t" style="left:832.56px;top:740px;font-size:14.4px;line-height:19px;color:#2A2A2A;transform:scaleX(0.8655);">08:30:02</span>
<span class="t" style="left:942.69px;top:740px;font-size:14.4px;line-height:19px;color:#2A2A2A;transform:scaleX(0.8740);">17:13:07</span>
<span class="t" style="left:1056.62px;top:740px;font-size:14px;line-height:18px;color:#2A2A2A;transform:scaleX(0.9540);">8h 43min</span>
<span class="t" style="left:1180.66px;top:741px;font-size:13.4px;line-height:17px;color:#2A2A2A;transform:scaleX(0.9787);">+43min Overtime</span>
<span class="t" style="left:1356.92px;top:741px;font-size:13.4px;line-height:17px;color:#2FA84F;transform:scaleX(0.9557);font-weight:700;">Completed</span>
<div style="left:411.6px;top:398.5px;width:214.3px;height:361.5px;background:#F8FAFD;"></div>
<div style="left:411.6px;top:398.5px;width:214.3px;height:131px;background:#F0F7FF;"></div>
<div style="left:411.6px;top:529px;width:109.4px;height:26px;background:#F0F7FF;"></div>
<div style="left:521px;top:702.5px;width:104.9px;height:22.5px;background:#F0F7FF;"></div>
<div style="left:521px;top:757.6px;width:104.9px;height:2.4px;background:#FFFFFF;"></div>
<svg style="left:0;top:0" width="1528" height="760" viewBox="0 0 1528 760" fill="none" stroke="#3D75BB" stroke-width="2.35"><path d="M19.5 398.5V760" stroke-width="1.3"/><path d="M141.25 398.5V760"/><path d="M251.6 398.5V760"/><path d="M410.4 398.5V760" stroke-width="1.9"/><path d="M630.8 398.5V760"/><path d="M802 398.5V760"/><path d="M912.5 398.5V760"/><path d="M1022.8 398.5V760"/><path d="M1145.1 398.5V760"/><path d="M1316.5 398.5V760"/><path d="M1463.6 398.5V760" stroke-width="2.6"/><path d="M19 409.85H410.4M626 409.85H1464.6"/><path d="M19 439.43H410.4M626 439.43H1464.6"/><path d="M19 469H410.4M626 469H1464.6"/><path d="M19 498.58H410.4M626 498.58H1464.6"/><path d="M19 528.15H410.4M626 528.15H1464.6"/><path d="M19 557.73H410.4M626 557.73H1464.6"/><path d="M19 587.3H410.4M626 587.3H1464.6"/><path d="M19 616.88H410.4M626 616.88H1464.6"/><path d="M19 646.45H410.4M626 646.45H1464.6"/><path d="M19 676.03H410.4M626 676.03H1464.6"/><path d="M19 705.6H410.4M626 705.6H1464.6"/><path d="M19 735.17H410.4M626 735.17H1464.6"/></svg>
<div style="left:1465px;top:409px;width:46px;height:1px;background:#E2E2E2;"></div>
<div style="left:0px;top:409px;width:18px;height:1px;background:#E0E0E0;"></div>
<div style="left:1465px;top:439px;width:46px;height:1px;background:#E2E2E2;"></div>
<div style="left:0px;top:439px;width:18px;height:1px;background:#E0E0E0;"></div>
<div style="left:1465px;top:469px;width:46px;height:1px;background:#E2E2E2;"></div>
<div style="left:0px;top:469px;width:18px;height:1px;background:#E0E0E0;"></div>
<div style="left:1465px;top:498px;width:46px;height:1px;background:#E2E2E2;"></div>
<div style="left:0px;top:498px;width:18px;height:1px;background:#E0E0E0;"></div>
<div style="left:1465px;top:528px;width:46px;height:1px;background:#E2E2E2;"></div>
<div style="left:0px;top:528px;width:18px;height:1px;background:#E0E0E0;"></div>
<div style="left:1465px;top:557px;width:46px;height:1px;background:#E2E2E2;"></div>
<div style="left:0px;top:557px;width:18px;height:1px;background:#E0E0E0;"></div>
<div style="left:1465px;top:587px;width:46px;height:1px;background:#E2E2E2;"></div>
<div style="left:0px;top:587px;width:18px;height:1px;background:#E0E0E0;"></div>
<div style="left:1465px;top:616px;width:46px;height:1px;background:#E2E2E2;"></div>
<div style="left:0px;top:616px;width:18px;height:1px;background:#E0E0E0;"></div>
<div style="left:1465px;top:646px;width:46px;height:1px;background:#E2E2E2;"></div>
<div style="left:0px;top:646px;width:18px;height:1px;background:#E0E0E0;"></div>
<div style="left:1465px;top:676px;width:46px;height:1px;background:#E2E2E2;"></div>
<div style="left:0px;top:676px;width:18px;height:1px;background:#E0E0E0;"></div>
<div style="left:1465px;top:705px;width:46px;height:1px;background:#E2E2E2;"></div>
<div style="left:0px;top:705px;width:18px;height:1px;background:#E0E0E0;"></div>
<div style="left:1465px;top:735px;width:46px;height:1px;background:#E2E2E2;"></div>
<div style="left:0px;top:735px;width:18px;height:1px;background:#E0E0E0;"></div>
<div style="left:0px;top:275px;width:18px;height:1px;background:#DCDCDC;"></div>
<div style="left:0px;top:313px;width:18px;height:1px;background:#DCDCDC;"></div>
<div style="left:0px;top:348px;width:18px;height:1px;background:#DCDCDC;"></div>
<div style="left:0px;top:364px;width:18px;height:1px;background:#DCDCDC;"></div>
<span class="t" style="left:3.41px;top:393px;font-size:11.6px;line-height:15px;color:#3b3b3b;">7</span>
<span class="t" style="left:3.97px;top:423px;font-size:11.6px;line-height:15px;color:#3b3b3b;">8</span>
<span class="t" style="left:3.98px;top:452px;font-size:11.6px;line-height:15px;color:#3b3b3b;">9</span>
<span class="t" style="left:-0.38px;top:482px;font-size:11.6px;line-height:15px;color:#3b3b3b;letter-spacing:1.43px;">10</span>
<span class="t" style="left:-0.38px;top:511px;font-size:11.6px;line-height:15px;color:#3b3b3b;letter-spacing:2.41px;">11</span>
<span class="t" style="left:-0.38px;top:541px;font-size:11.6px;line-height:15px;color:#3b3b3b;letter-spacing:1.56px;">12</span>
<span class="t" style="left:-0.38px;top:570px;font-size:11.6px;line-height:15px;color:#3b3b3b;letter-spacing:1.49px;">13</span>
<span class="t" style="left:-0.38px;top:600px;font-size:11.6px;line-height:15px;color:#3b3b3b;letter-spacing:1.32px;">14</span>
<span class="t" style="left:-0.38px;top:630px;font-size:11.6px;line-height:15px;color:#3b3b3b;letter-spacing:1.47px;">15</span>
<span class="t" style="left:-0.38px;top:659px;font-size:11.6px;line-height:15px;color:#3b3b3b;letter-spacing:1.49px;">16</span>
<span class="t" style="left:-0.38px;top:689px;font-size:11.6px;line-height:15px;color:#3b3b3b;letter-spacing:1.56px;">17</span>
<span class="t" style="left:-0.38px;top:718px;font-size:11.6px;line-height:15px;color:#3b3b3b;letter-spacing:1.48px;">18</span>
<span class="t" style="left:-0.38px;top:748px;font-size:11.6px;line-height:15px;color:#3b3b3b;letter-spacing:1.53px;">19</span>
</div>
<div style="left:0px;top:397px;width:1511px;height:1px;background:#9A9A9A;"></div>
<div style="left:0px;top:398px;width:1511px;height:1px;background:rgba(130,130,130,.38);"></div>
<span class="t" style="left:3.62px;top:259px;font-size:11.6px;line-height:15px;color:#1B6B3F;">1</span>
<span class="t" style="left:3.77px;top:298px;font-size:11.6px;line-height:15px;color:#3b3b3b;">2</span>
<span class="t" style="left:3.81px;top:333px;font-size:11.6px;line-height:15px;color:#3b3b3b;">3</span>
<span class="t" style="left:3.81px;top:349px;font-size:11.6px;line-height:15px;color:#3b3b3b;">4</span>
<span class="t" style="left:3.79px;top:382px;font-size:11.6px;line-height:15px;color:#3b3b3b;">5</span>
</div>
<!-- scrollbars, sheet tabs, status bar -->
<div style="left:1511px;top:205px;width:17px;height:20px;background:#E8EBEF;"></div>
<div style="left:1511px;top:214px;width:17px;height:548px;background:linear-gradient(#E8EBEF 0,#E8EAE4 50%,#E7EAD9 100%);"></div>
<div style="left:1513.4px;top:213.2px;width:18px;height:548.4px;background:#F5F5F5;border-radius:8px 0 0 8px;"></div>
<svg style="left:1517px;top:218px;" width="10" height="8" viewBox="0 0 10 8" fill="none"><path d="M5 .9L9 6.2A.6 .6 0 0 1 8.5 7.2H1.5A.6 .6 0 0 1 1 6.2Z" fill="#666"/></svg>
<div style="left:1517.6px;top:232.8px;width:8.8px;height:16.6px;background:#6E6E6E;border-radius:4.4px;"></div>
<svg style="left:1517px;top:749px;" width="10" height="8" viewBox="0 0 10 8" fill="none"><path d="M5 7.3L9 2A.6 .6 0 0 0 8.5 1H1.5A.6 .6 0 0 0 1 2Z" fill="#666"/></svg>
<div style="left:0px;top:760px;width:1528px;height:32px;background:linear-gradient(90deg,#E4E6E8 0,#E4E6E8 27%,#E6E9DA 36%,#E7EAD9 100%);"></div>
<div style="left:0px;top:760px;width:173.4px;height:32.5px;background:#E3E6E8;border-radius:0 7px 0 0;"></div>
<svg style="left:20px;top:769px;" width="8" height="12" viewBox="0 0 8 12" fill="none"><path d="M6 1.4L1.6 6L6 10.6" stroke="#9A9A9A" stroke-width="1.1" stroke-linecap="round" stroke-linejoin="round"/></svg>
<svg style="left:52px;top:769px;" width="8" height="12" viewBox="0 0 8 12" fill="none"><path d="M2 1.4L6.4 6L2 10.6" stroke="#9A9A9A" stroke-width="1.1" stroke-linecap="round" stroke-linejoin="round"/></svg>
<span class="t" style="left:115.89px;top:767px;font-size:14.6px;line-height:19px;color:#3A3A3A;transform:scaleX(0.9535);">Chart1</span>
<div style="left:169.5px;top:768px;width:1px;height:17px;background:#CFCFCF;"></div>
<div style="left:173.6px;top:760.4px;width:204.6px;height:27px;background:#FFFFFF;border-radius:4px 4px 6px 6px;box-shadow:0 1px 2px rgba(0,0,0,.14);"></div>
<span class="t" style="left:181.57px;top:764px;font-size:14.4px;line-height:19px;color:#1F1F1F;transform:scaleX(0.9981);text-shadow:0 0 .5px #1f1f1f;">Attendance Timeclock Report</span>
<svg style="left:180px;top:782px;" width="192" height="5" viewBox="0 0 192 5" fill="none"><path d="M2.3 2.45H189.5" stroke="#107C41" stroke-width="1.7" stroke-linecap="round"/></svg>
<div style="left:381.5px;top:768px;width:1px;height:17px;background:#CFCFCF;"></div>
<svg style="left:423px;top:768.5px;" width="13" height="13" viewBox="0 0 13 13" fill="none"><path d="M6.5 1V12M1 6.5H12" stroke="#2B2B2B" stroke-width="1.2"/></svg>
<div style="left:919.8px;top:769.6px;width:2px;height:2px;background:#2B2B2B;border-radius:50%;"></div>
<div style="left:919.8px;top:774px;width:2px;height:2px;background:#2B2B2B;border-radius:50%;"></div>
<div style="left:919.8px;top:778.4px;width:2px;height:2px;background:#2B2B2B;border-radius:50%;"></div>
<div style="left:937px;top:767px;width:574px;height:16.8px;background:#F5F5F5;border-radius:8.4px;"></div>
<svg style="left:941.4px;top:770.6px;" width="8" height="10" viewBox="0 0 8 10" fill="none"><path d="M7 1.2V8.8A.6 .6 0 0 1 6 9.3L1 5.5A.6 .6 0 0 1 1 4.5L6 .7A.6 .6 0 0 1 7 1.2Z" fill="#666"/></svg>
<svg style="left:1499px;top:770.6px;" width="8" height="10" viewBox="0 0 8 10" fill="none"><path d="M1 1.2V8.8A.6 .6 0 0 0 2 9.3L7 5.5A.6 .6 0 0 0 7 4.5L2 .7A.6 .6 0 0 0 1 1.2Z" fill="#666"/></svg>
<div style="left:953.5px;top:770.8px;width:537.8px;height:9px;background:#6E6E6E;border-radius:4.5px;"></div>
<div style="left:0px;top:792px;width:1528px;height:19px;background:#F3F3F3;"></div>
<span class="t" style="left:6.66px;top:795px;font-size:11.6px;line-height:15px;color:#3A3A3A;transform:scaleX(0.8815);">Ready</span>
<svg style="left:56px;top:795px;" width="15" height="16" viewBox="0 0 15 16" fill="none"><circle cx="6.2" cy="2.2" r="1.7" stroke="#4A4A4A" stroke-width="1" fill="none"/><path d="M.8 4.6C3 5.8 9.4 5.8 11.6 4.6M4.4 5.6V9L2 14.2M8 5.6V9L9.4 11" stroke="#4A4A4A" stroke-width="1.1" fill="none" stroke-linecap="round"/><path d="M8.6 10L13.6 14.6M13.6 10L8.6 14.6" stroke="#4A4A4A" stroke-width="1.1" stroke-linecap="round"/></svg>
<span class="t" style="left:74.75px;top:796px;font-size:11.2px;line-height:15px;color:#242424;transform:scaleX(0.9086);font-weight:700;">Accessibility: Investigate</span>
<div style="left:1234px;top:792.5px;width:39.5px;height:18.5px;background:#E0E0E0;"></div>
<svg style="left:1246px;top:796px;" width="14.5" height="14" viewBox="0 0 14.5 14" fill="none"><rect x=".6" y=".6" width="13" height="12.4" stroke="#2B2B2B" stroke-width="1.2" fill="#fff"/><path d="M5 .6V13M9.4 .6V13M.6 4.8H13.6M.6 9H13.6" stroke="#2B2B2B" stroke-width="1.2"/></svg>
<svg style="left:1286px;top:796px;" width="14.5" height="14" viewBox="0 0 14.5 14" fill="none"><rect x=".6" y=".6" width="13.2" height="12.4" stroke="#2B2B2B" stroke-width="1.1" fill="#fff"/><rect x="3.2" y="3" width="8" height="7.6" stroke="#2B2B2B" stroke-width="1" fill="none"/><path d="M5 5.4H9.4M5 7.2H9.4M5 9H9.4" stroke="#2B2B2B" stroke-width=".8"/></svg>
<svg style="left:1326px;top:796px;" width="14.5" height="14" viewBox="0 0 14.5 14" fill="none"><rect x=".6" y=".6" width="13.2" height="12.4" stroke="#2B2B2B" stroke-width="1.1" fill="#fff"/><path d="M4.2 .6V7.2H9.6V.6M.6 7.2H4.2" stroke="#2B2B2B" stroke-width="1.1" fill="none"/></svg>
<div style="left:1359px;top:802.6px;width:7px;height:1.1px;background:#3A3A3A;"></div>
<div style="left:1372px;top:802.6px;width:100px;height:1px;background:#6A6A6A;"></div>
<div style="left:1421px;top:799.5px;width:1px;height:7px;background:#6A6A6A;"></div>
<div style="left:1412px;top:797px;width:4.6px;height:12px;background:#4F4F4F;border-radius:1px;"></div>
<svg style="left:1476px;top:798.5px;" width="9" height="9" viewBox="0 0 9 9" fill="none"><path d="M4.5 .6V8.4M.6 4.5H8.4" stroke="#3A3A3A" stroke-width="1.1"/></svg>
<span class="t" style="left:1496.76px;top:796px;font-size:11.2px;line-height:15px;color:#3A3A3A;transform:scaleX(0.9010);">85%</span>
</div>
</body>
</html>
